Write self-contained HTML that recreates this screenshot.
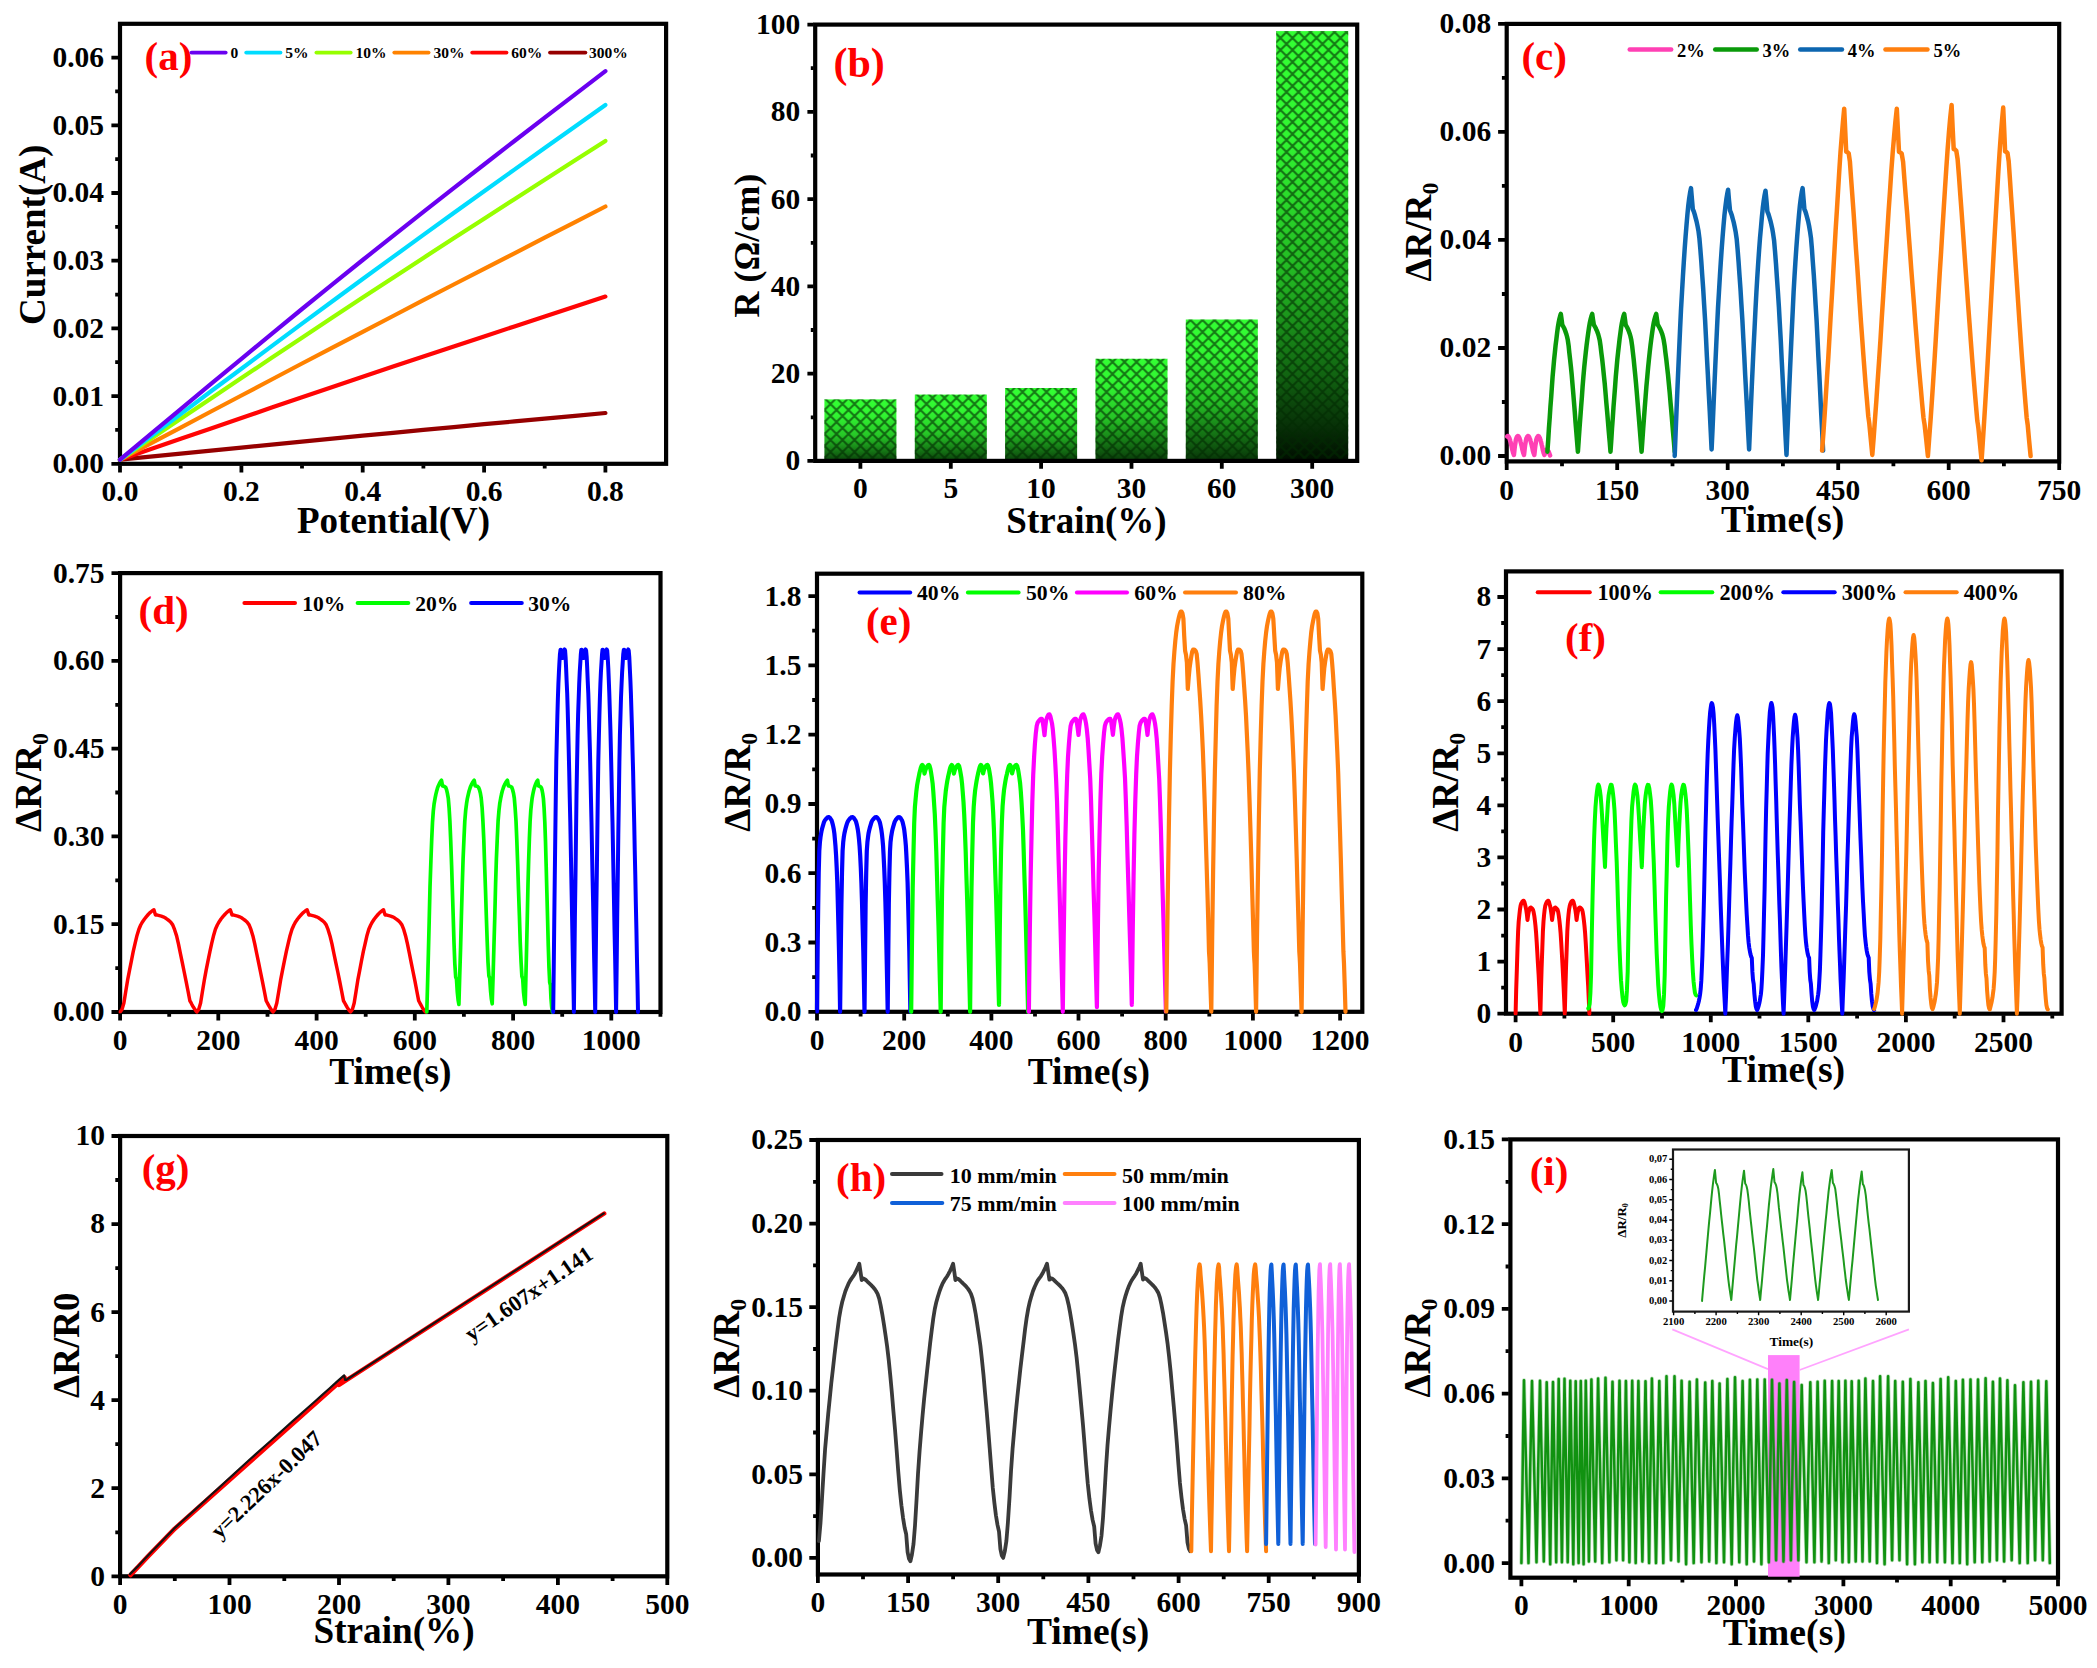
<!DOCTYPE html>
<html lang="en">
<head>
<meta charset="utf-8">
<title>Strain sensor characterisation figure</title>
<style>
html,body{margin:0;padding:0;background:#fff;}
body{width:2097px;height:1668px;overflow:hidden;}
svg{display:block;font-family:'Liberation Serif', 'DejaVu Serif', serif;font-weight:bold;fill:#000;}

</style>
</head>
<body>
<svg xmlns="http://www.w3.org/2000/svg" width="2097" height="1668" viewBox="0 0 2097 1668">
<rect width="2097" height="1668" fill="#fff"/>
<g id="pa"><rect x="120" y="23.8" width="546.1" height="440" fill="none" stroke="#000" stroke-width="4.2"/>
<path d="M120 459.7L150.3 456.7L180.7 453.6L211 450.6L241.4 447.6L271.7 444.6L302 441.6L332.4 438.6L362.7 435.7L393.1 432.8L423.4 429.9L453.7 427.1L484.1 424.2L514.4 421.4L544.7 418.6L575.1 415.8L605.4 413" stroke="#960000" stroke-width="4.2" fill="none" stroke-linejoin="round" stroke-linecap="round"/>
<path d="M120 459.7L150.3 449.3L180.7 438.8L211 428.4L241.4 418L271.7 407.6L302 397.3L332.4 387L362.7 376.8L393.1 366.6L423.4 356.5L453.7 346.4L484.1 336.4L514.4 326.4L544.7 316.5L575.1 306.5L605.4 296.6" stroke="#ff0505" stroke-width="4.2" fill="none" stroke-linejoin="round" stroke-linecap="round"/>
<path d="M120 459.7L150.3 443.6L180.7 427.6L211 411.5L241.4 395.5L271.7 379.5L302 363.5L332.4 347.6L362.7 331.8L393.1 316L423.4 300.2L453.7 284.5L484.1 268.9L514.4 253.3L544.7 237.7L575.1 222.1L605.4 206.5" stroke="#ff8200" stroke-width="4.2" fill="none" stroke-linejoin="round" stroke-linecap="round"/>
<path d="M120 459.7L150.3 439.3L180.7 418.8L211 398.4L241.4 378.1L271.7 357.8L302 337.7L332.4 317.6L362.7 297.6L393.1 277.7L423.4 257.9L453.7 238.3L484.1 218.7L514.4 199.2L544.7 179.7L575.1 160.3L605.4 140.9" stroke="#96ff00" stroke-width="4.2" fill="none" stroke-linejoin="round" stroke-linecap="round"/>
<path d="M120 459.7L150.3 436.9L180.7 414.1L211 391.3L241.4 368.7L271.7 346.1L302 323.6L332.4 301.2L362.7 279L393.1 256.9L423.4 234.9L453.7 213L484.1 191.3L514.4 169.6L544.7 148L575.1 126.5L605.4 105" stroke="#00dcff" stroke-width="4.2" fill="none" stroke-linejoin="round" stroke-linecap="round"/>
<path d="M120 459.7L150.3 434.4L180.7 409.1L211 383.9L241.4 358.8L271.7 333.8L302 309L332.4 284.4L362.7 260L393.1 235.8L423.4 211.9L453.7 188.1L484.1 164.5L514.4 141L544.7 117.6L575.1 94.4L605.4 71.1" stroke="#6a00f0" stroke-width="4.2" fill="none" stroke-linejoin="round" stroke-linecap="round"/>
<path d="M120 465.4v7M241.4 465.4v7M362.7 465.4v7M484.1 465.4v7M605.4 465.4v7M180.7 465.4v3.2M302 465.4v3.2M423.4 465.4v3.2M544.7 465.4v3.2" stroke="#000" stroke-width="3.8" fill="none"/>
<g font-size="29.5" text-anchor="middle"><text x="120" y="501.2">0.0</text><text x="241.4" y="501.2">0.2</text><text x="362.7" y="501.2">0.4</text><text x="484.1" y="501.2">0.6</text><text x="605.4" y="501.2">0.8</text></g>
<path d="M118.4 463.8h-7M118.4 396.1h-7M118.4 328.4h-7M118.4 260.7h-7M118.4 193h-7M118.4 125.3h-7M118.4 57.6h-7M118.4 429.9h-3.2M118.4 362.2h-3.2M118.4 294.6h-3.2M118.4 226.8h-3.2M118.4 159.2h-3.2M118.4 91.4h-3.2" stroke="#000" stroke-width="3.8" fill="none"/>
<g font-size="29.5" text-anchor="end"><text x="104" y="473.2">0.00</text><text x="104" y="405.5">0.01</text><text x="104" y="337.8">0.02</text><text x="104" y="270.1">0.03</text><text x="104" y="202.4">0.04</text><text x="104" y="134.7">0.05</text><text x="104" y="67">0.06</text></g>
<text x="393.6" y="532.6" font-size="37" text-anchor="middle">Potential(V)</text>
<text transform="translate(44.6 234.8) rotate(-90)" font-size="37" text-anchor="middle">Current(A)</text>
<text x="144.5" y="70.3" font-size="41" fill="#ff0000">(a)</text>
<path d="M191.5 52.6H225.7" stroke="#6a00f0" stroke-width="3.8" stroke-linecap="round"/>
<text x="230.5" y="58.3" font-size="15.5">0</text>
<path d="M246.2 52.6H280.5" stroke="#00dcff" stroke-width="3.8" stroke-linecap="round"/>
<text x="285.3" y="58.3" font-size="15.5">5%</text>
<path d="M316.4 52.6H350.7" stroke="#96ff00" stroke-width="3.8" stroke-linecap="round"/>
<text x="355.5" y="58.3" font-size="15.5">10%</text>
<path d="M394.3 52.6H428.6" stroke="#ff8200" stroke-width="3.8" stroke-linecap="round"/>
<text x="433.4" y="58.3" font-size="15.5">30%</text>
<path d="M472.2 52.6H506.5" stroke="#ff0505" stroke-width="3.8" stroke-linecap="round"/>
<text x="511.2" y="58.3" font-size="15.5">60%</text>
<path d="M550 52.6H585.4" stroke="#960000" stroke-width="3.8" stroke-linecap="round"/>
<text x="589.1" y="58.3" font-size="15.5">300%</text></g>
<g id="pb"><defs><pattern id="hatch" width="12" height="12" patternUnits="userSpaceOnUse" x="824.5" y="2"><path d="M-1 -1L13 13M-1 13L13 -1" stroke="#022a02" stroke-opacity="0.62" stroke-width="2.1" fill="none"/></pattern><linearGradient id="bg0" x1="0" y1="0" x2="0" y2="1"><stop offset="0" stop-color="#33ff33"/><stop offset="0.25" stop-color="#31f531"/><stop offset="0.58" stop-color="#27c827"/><stop offset="0.8" stop-color="#178217"/><stop offset="1" stop-color="#0a420a"/></linearGradient><linearGradient id="bg1" x1="0" y1="0" x2="0" y2="1"><stop offset="0" stop-color="#33ff33"/><stop offset="0.25" stop-color="#31f531"/><stop offset="0.58" stop-color="#27c827"/><stop offset="0.8" stop-color="#178217"/><stop offset="1" stop-color="#0a420a"/></linearGradient><linearGradient id="bg2" x1="0" y1="0" x2="0" y2="1"><stop offset="0" stop-color="#33ff33"/><stop offset="0.25" stop-color="#31f531"/><stop offset="0.58" stop-color="#27c827"/><stop offset="0.8" stop-color="#178017"/><stop offset="1" stop-color="#0a400a"/></linearGradient><linearGradient id="bg3" x1="0" y1="0" x2="0" y2="1"><stop offset="0" stop-color="#33ff33"/><stop offset="0.25" stop-color="#31f531"/><stop offset="0.58" stop-color="#26c426"/><stop offset="0.8" stop-color="#167c16"/><stop offset="1" stop-color="#093a09"/></linearGradient><linearGradient id="bg4" x1="0" y1="0" x2="0" y2="1"><stop offset="0" stop-color="#33ff33"/><stop offset="0.25" stop-color="#31f531"/><stop offset="0.58" stop-color="#25c025"/><stop offset="0.8" stop-color="#157615"/><stop offset="1" stop-color="#083408"/></linearGradient><linearGradient id="bg5" x1="0" y1="0" x2="0" y2="1"><stop offset="0" stop-color="#33ff33"/><stop offset="0.25" stop-color="#31f531"/><stop offset="0.58" stop-color="#22b422"/><stop offset="0.8" stop-color="#116411"/><stop offset="1" stop-color="#000d00"/></linearGradient></defs>
<rect x="824.4" y="399.4" width="72" height="61.5" fill="url(#bg0)"/>
<rect x="824.4" y="399.4" width="72" height="61.5" fill="url(#hatch)"/>
<rect x="914.8" y="394.6" width="72" height="66.3" fill="url(#bg1)"/>
<rect x="914.8" y="394.6" width="72" height="66.3" fill="url(#hatch)"/>
<rect x="1005.1" y="388" width="72" height="72.9" fill="url(#bg2)"/>
<rect x="1005.1" y="388" width="72" height="72.9" fill="url(#hatch)"/>
<rect x="1095.5" y="358.8" width="72" height="102.1" fill="url(#bg3)"/>
<rect x="1095.5" y="358.8" width="72" height="102.1" fill="url(#hatch)"/>
<rect x="1185.8" y="319.5" width="72" height="141.4" fill="url(#bg4)"/>
<rect x="1185.8" y="319.5" width="72" height="141.4" fill="url(#hatch)"/>
<rect x="1276.2" y="31.1" width="72" height="429.8" fill="url(#bg5)"/>
<rect x="1276.2" y="31.1" width="72" height="429.8" fill="url(#hatch)"/>
<rect x="815.2" y="24.6" width="542" height="436.3" fill="none" stroke="#000" stroke-width="4.2"/>
<path d="M860.4 462.5v6.2M950.8 462.5v6.2M1041.1 462.5v6.2M1131.5 462.5v6.2M1221.8 462.5v6.2M1312.2 462.5v6.2" stroke="#000" stroke-width="3.8" fill="none"/>
<g font-size="29.5" text-anchor="middle"><text x="860.4" y="497.9">0</text><text x="950.8" y="497.9">5</text><text x="1041.1" y="497.9">10</text><text x="1131.5" y="497.9">30</text><text x="1221.8" y="497.9">60</text><text x="1312.2" y="497.9">300</text></g>
<path d="M813.6 460.9h-6.2M813.6 373.6h-6.2M813.6 286.4h-6.2M813.6 199.1h-6.2M813.6 111.9h-6.2M813.6 24.6h-6.2M813.6 417.3h-2.8M813.6 330h-2.8M813.6 242.8h-2.8M813.6 155.5h-2.8M813.6 68.2h-2.8" stroke="#000" stroke-width="3.8" fill="none"/>
<g font-size="29.5" text-anchor="end"><text x="800.3" y="470.3">0</text><text x="800.3" y="383">20</text><text x="800.3" y="295.8">40</text><text x="800.3" y="208.5">60</text><text x="800.3" y="121.2">80</text><text x="800.3" y="34">100</text></g>
<text x="1086.5" y="532.6" font-size="37" text-anchor="middle">Strain(%)</text>
<text transform="translate(758.8 245.6) rotate(-90)" font-size="36" text-anchor="middle">R (Ω/cm)</text>
<text x="833.5" y="77.4" font-size="42" fill="#ff0000">(b)</text></g>
<g id="pc"><rect x="1506.7" y="23.9" width="552.5" height="437.5" fill="none" stroke="#000" stroke-width="4.2"/>
<path d="M1507.2 436.5L1507.5 436.1L1507.9 436L1508.2 436.2L1508.5 436.6L1508.9 437.2L1509.2 437.9L1509.5 438.7L1509.9 439.6L1510.2 440.8L1510.6 442.1L1510.9 443.4L1511.2 444.8L1511.6 446.2L1511.9 447.7L1512.2 449.3L1512.6 450.8L1512.9 452.1L1513.2 453.2L1513.6 454.1L1513.9 454.9L1514.3 451.6L1514.6 448.6L1514.9 445.9L1515.3 443.7L1515.6 441.6L1515.9 439.7L1516.3 438.3L1516.6 437.6L1516.9 437L1517.3 436.5L1517.6 436.1L1518 436L1518.3 436.2L1518.6 436.6L1519 437.2L1519.3 437.9L1519.6 438.7L1520 439.6L1520.3 440.8L1520.6 442.1L1521 443.4L1521.3 444.8L1521.7 446.2L1522 447.7L1522.3 449.3L1522.7 450.8L1523 452.1L1523.3 453.2L1523.7 454.1L1524 454.9L1524.4 451.6L1524.7 448.6L1525 445.9L1525.4 443.7L1525.7 441.6L1526.1 439.7L1526.4 438.3L1526.8 437.6L1527.1 437L1527.4 436.5L1527.8 436.1L1528.1 436L1528.5 436.2L1528.8 436.6L1529.2 437.2L1529.5 437.9L1529.9 438.7L1530.2 439.6L1530.5 440.8L1530.9 442.1L1531.2 443.4L1531.6 444.8L1531.9 446.2L1532.3 447.7L1532.6 449.3L1532.9 450.8L1533.3 452.1L1533.6 453.2L1534 454.1L1534.3 454.9L1534.7 451.6L1535 448.6L1535.3 445.9L1535.7 443.7L1536 441.6L1536.3 439.7L1536.7 438.3L1537 437.6L1537.4 437L1537.7 436.5L1538 436.1L1538.4 436L1538.7 436.2L1539 436.6L1539.4 437.2L1539.7 437.9L1540 438.7L1540.4 439.6L1540.7 440.8L1541.1 442.1L1541.4 443.4L1541.7 444.8L1542.1 446.2L1542.4 447.7L1542.7 449.3L1543.1 450.8L1543.4 452.1L1543.7 453.2L1544.1 454.1L1544.4 454.9L1546.5 449.5L1548.7 451.7L1550.1 455.5" stroke="#ff40b4" stroke-width="4.5" fill="none" stroke-linejoin="round" stroke-linecap="round"/>
<path d="M1547.4 451.7L1548.2 440.1L1548.9 428.7L1549.7 417.8L1550.4 407.2L1551.2 396.8L1551.9 386.5L1552.6 376.7L1553.4 367.8L1554.1 359.7L1554.9 352.3L1555.6 345.3L1556.4 339L1557.1 333.1L1557.8 327.7L1558.6 323L1559.3 319.3L1560.1 316.2L1560.8 313.9L1561.6 319.5L1562.3 325L1563.1 326.2L1563.9 327.7L1564.7 329.5L1565.4 331.4L1566.2 333.7L1567 336.5L1567.8 340.1L1568.6 345.6L1569.3 352.4L1570.1 359.4L1570.9 366.8L1571.7 374.8L1572.4 383.3L1573.2 392.6L1574 402.4L1574.8 412.3L1575.5 422.1L1576.3 431.9L1577.1 441.8L1577.9 451.7L1578.7 440.1L1579.5 428.7L1580.3 417.8L1581.1 407.2L1581.9 396.8L1582.6 386.5L1583.4 376.7L1584.2 367.8L1585 359.7L1585.8 352.3L1586.6 345.3L1587.4 339L1588.2 333.1L1589 327.7L1589.8 323L1590.6 319.3L1591.4 316.2L1592.2 313.9L1593 319.5L1593.9 325L1594.7 326.2L1595.5 327.7L1596.3 329.5L1597.2 331.4L1598 333.7L1598.8 336.5L1599.7 340.1L1600.5 345.6L1601.3 352.4L1602.2 359.4L1603 366.8L1603.8 374.8L1604.7 383.3L1605.5 392.6L1606.3 402.4L1607.2 412.3L1608 422.1L1608.8 431.9L1609.7 441.8L1610.5 451.7L1611.3 440.1L1612 428.7L1612.8 417.8L1613.5 407.2L1614.3 396.8L1615.1 386.5L1615.8 376.7L1616.6 367.8L1617.3 359.7L1618.1 352.3L1618.9 345.3L1619.6 339L1620.4 333.1L1621.1 327.7L1621.9 323L1622.7 319.3L1623.4 316.2L1624.2 313.9L1625 319.5L1625.7 325L1626.5 326.2L1627.3 327.7L1628.1 329.5L1628.9 331.4L1629.7 333.7L1630.5 336.5L1631.3 340.1L1632.1 345.6L1632.9 352.4L1633.7 359.4L1634.4 366.8L1635.2 374.8L1636 383.3L1636.8 392.6L1637.6 402.4L1638.4 412.3L1639.2 422.1L1640 431.9L1640.8 441.8L1641.6 451.7L1642.4 440.1L1643.2 428.7L1644 417.8L1644.8 407.2L1645.6 396.8L1646.4 386.5L1647.3 376.7L1648.1 367.8L1648.9 359.7L1649.7 352.3L1650.5 345.3L1651.3 339L1652.1 333.1L1652.9 327.7L1653.7 323L1654.5 319.3L1655.4 316.2L1656.2 313.9L1657 319.5L1657.8 325L1658.7 326.2L1659.5 327.7L1660.4 329.5L1661.2 331.4L1662.1 333.7L1662.9 336.5L1663.7 340.1L1664.6 345.6L1665.4 352.4L1666.3 359.4L1667.1 366.8L1668 374.8L1668.8 383.3L1669.7 392.6L1670.5 402.4L1671.4 412.3L1672.2 422.1L1673 431.9L1673.9 441.8L1674.7 451.7" stroke="#0a9a0a" stroke-width="4.5" fill="none" stroke-linejoin="round" stroke-linecap="round"/>
<path d="M1674.7 456L1675.6 433.2L1676.5 411.1L1677.4 389.7L1678.3 369L1679.2 348.7L1680.1 328.7L1681 309.7L1682 292.3L1682.9 276.7L1683.8 262.2L1684.7 248.7L1685.6 236.4L1686.5 225.2L1687.4 214.6L1688.3 205.5L1689.2 198.3L1690.1 192.5L1691 188.1L1691.9 198.7L1692.8 209.3L1693.8 211.5L1694.7 214.4L1695.6 217.8L1696.6 221.6L1697.5 225.9L1698.5 231.2L1699.4 238.2L1700.3 248.6L1701.3 261.5L1702.2 274.9L1703.2 289L1704.1 304.2L1705.1 320.4L1706 337.9L1706.9 356.6L1707.9 375.3L1708.8 393.8L1709.8 412.3L1710.7 430.9L1711.6 449.5L1712.6 427.6L1713.5 406.3L1714.4 385.6L1715.3 365.6L1716.2 345.9L1717.1 326.6L1718 308.2L1719 291.3L1719.9 276.1L1720.8 262L1721.7 248.9L1722.6 236.9L1723.5 225.9L1724.4 215.6L1725.4 206.7L1726.3 199.7L1727.2 194L1728.1 189.7L1729 200.1L1730 210.5L1730.9 212.7L1731.9 215.6L1732.8 219L1733.8 222.7L1734.7 227L1735.7 232.2L1736.7 239.1L1737.6 249.4L1738.6 262.2L1739.5 275.4L1740.5 289.4L1741.4 304.5L1742.4 320.6L1743.3 338L1744.3 356.6L1745.2 375.3L1746.2 393.7L1747.2 412.2L1748.1 430.8L1749.1 449.5L1750 427.8L1750.9 406.7L1751.8 386.1L1752.7 366.3L1753.6 346.8L1754.6 327.5L1755.5 309.2L1756.4 292.4L1757.3 277.2L1758.2 263.1L1759.1 250.1L1760 238.1L1761 227.1L1761.9 216.8L1762.8 207.9L1763.7 200.9L1764.6 195.1L1765.5 190.8L1766.5 201.2L1767.4 211.7L1768.4 214L1769.3 216.9L1770.3 220.3L1771.2 224L1772.2 228.4L1773.1 233.7L1774.1 240.6L1775 251.1L1776 264L1776.9 277.5L1777.9 291.7L1778.9 307L1779.8 323.4L1780.8 341.1L1781.7 360L1782.7 379.1L1783.6 397.9L1784.6 416.8L1785.5 435.8L1786.5 454.9L1787.4 432.3L1788.3 410.3L1789.2 389L1790.1 368.4L1791 348.2L1791.9 328.3L1792.8 309.4L1793.6 292.1L1794.5 276.5L1795.4 262L1796.3 248.6L1797.2 236.4L1798.1 225.1L1799 214.6L1799.9 205.5L1800.8 198.3L1801.7 192.5L1802.6 188.1L1803.5 198.7L1804.4 209.3L1805.4 211.5L1806.3 214.5L1807.2 217.9L1808.2 221.6L1809.1 226L1810 231.3L1811 238.2L1811.9 248.7L1812.8 261.7L1813.8 275.1L1814.7 289.2L1815.6 304.5L1816.6 320.7L1817.5 338.3L1818.4 357.1L1819.4 376L1820.3 394.5L1821.2 413.1L1822.2 431.8L1823.1 450.6" stroke="#0d66b0" stroke-width="4.5" fill="none" stroke-linejoin="round" stroke-linecap="round"/>
<path d="M1822.1 450.6L1823.4 433.2L1824.6 415.3L1825.8 396.7L1827 377.5L1828.3 357.5L1829.5 336.6L1830.7 315.4L1832 294.2L1833.2 273.1L1834.4 251.8L1835.6 230.7L1836.9 210.2L1838.1 190.3L1839.3 170.6L1840.5 152.2L1841.8 136L1843 121.5L1844.2 108.7L1845.2 130.2L1846.2 151.7L1847.4 152.2L1848.7 153.4L1849.9 161.5L1851.1 178.6L1852.4 196.3L1853.6 213.1L1854.8 231L1856 249.3L1857.3 267.4L1858.5 285.2L1859.7 303.3L1860.9 321.2L1862.2 338.7L1863.4 355.4L1864.6 371.5L1865.8 387L1867.1 402L1868.3 416.5L1868.8 420L1869.3 423.5L1870.8 439.2L1872.3 454.9L1873.7 437.3L1875 419L1876.4 400.1L1877.7 380.6L1879.1 360.4L1880.5 339.2L1881.8 317.6L1883.2 296.2L1884.5 274.8L1885.9 253.3L1887.3 232L1888.6 211.2L1890 191.1L1891.3 171.2L1892.7 152.6L1894.1 136.2L1895.4 121.6L1896.8 108.7L1897.9 130.4L1899 152L1900.4 152.5L1901.7 153.7L1903.1 161.8L1904.4 179.1L1905.8 196.9L1907.2 213.8L1908.5 231.8L1909.9 250.2L1911.2 268.3L1912.6 286.3L1914 304.4L1915.3 322.3L1916.7 339.9L1918 356.6L1919.4 372.7L1920.8 388.2L1922.1 403.2L1923.5 417.7L1924 421.2L1924.6 424.7L1926.3 440.3L1927.9 456L1929.2 438.2L1930.6 419.7L1931.9 400.6L1933.2 380.9L1934.5 360.4L1935.8 339L1937.1 317.1L1938.4 295.4L1939.7 273.7L1941.1 251.9L1942.4 230.2L1943.7 209.2L1945 188.7L1946.3 168.5L1947.6 149.6L1948.9 132.9L1950.2 118L1951.6 104.9L1952.6 127L1953.7 149.1L1955 149.5L1956.3 150.8L1957.6 159.1L1959 176.6L1960.3 194.8L1961.6 212.1L1962.9 230.4L1964.2 249.3L1965.5 267.8L1966.8 286.2L1968.1 304.7L1969.5 323.1L1970.8 341L1972.1 358.2L1973.4 374.7L1974.7 390.6L1976 406L1977.3 420.9L1977.9 424.5L1978.4 428.1L1980 444.2L1981.6 460.3L1982.8 442.2L1984 423.5L1985.2 404.1L1986.4 384.2L1987.6 363.5L1988.8 341.9L1990 319.9L1991.2 298L1992.4 276.3L1993.6 254.4L1994.8 232.7L1996 211.6L1997.2 191.1L1998.4 170.9L1999.6 152.1L2000.8 135.5L2002 120.7L2003.2 107.6L2004.2 129.5L2005.1 151.4L2006.3 151.9L2007.5 153.1L2008.7 161.3L2009.9 178.7L2011.1 196.6L2012.3 213.6L2013.5 231.7L2014.7 250.3L2015.9 268.5L2017.1 286.5L2018.3 304.7L2019.5 322.7L2020.7 340.2L2021.9 357L2023.1 373.1L2024.3 388.6L2025.5 403.6L2026.7 418L2027.2 421.4L2027.7 424.9L2029.1 440.4L2030.6 456" stroke="#ff7f0e" stroke-width="4.5" fill="none" stroke-linejoin="round" stroke-linecap="round"/>
<path d="M1506.7 463v7M1617.2 463v7M1727.7 463v7M1838.2 463v7M1948.7 463v7M2059.2 463v7M1562 463v3.2M1672.5 463v3.2M1782.9 463v3.2M1893.4 463v3.2M2003.9 463v3.2" stroke="#000" stroke-width="3.8" fill="none"/>
<g font-size="29.5" text-anchor="middle"><text x="1506.7" y="499.8">0</text><text x="1617.2" y="499.8">150</text><text x="1727.7" y="499.8">300</text><text x="1838.2" y="499.8">450</text><text x="1948.7" y="499.8">600</text><text x="2059.2" y="499.8">750</text></g>
<path d="M1505.1 456h-7M1505.1 348h-7M1505.1 239.9h-7M1505.1 131.9h-7M1505.1 23.9h-7M1505.1 402h-3.2M1505.1 294h-3.2M1505.1 185.9h-3.2M1505.1 77.9h-3.2" stroke="#000" stroke-width="3.8" fill="none"/>
<g font-size="29.5" text-anchor="end"><text x="1491.2" y="465.4">0.00</text><text x="1491.2" y="357.4">0.02</text><text x="1491.2" y="249.3">0.04</text><text x="1491.2" y="141.3">0.06</text><text x="1491.2" y="33.3">0.08</text></g>
<text x="1782.7" y="532.1" font-size="37.8" text-anchor="middle">Time(s)</text>
<text transform="translate(1430.8 232) rotate(-90)" font-size="37" text-anchor="middle">ΔR/R<tspan font-size="24" dy="7">0</tspan></text>
<text x="1521.4" y="69.9" font-size="41" fill="#ff0000">(c)</text>
<path d="M1629.7 49.5H1671.2" stroke="#ff40b4" stroke-width="4.4" stroke-linecap="round"/>
<text x="1677" y="56.5" font-size="18.5">2%</text>
<path d="M1715.2 49.5H1756.8" stroke="#0a9a0a" stroke-width="4.4" stroke-linecap="round"/>
<text x="1762.5" y="56.5" font-size="18.5">3%</text>
<path d="M1800.2 49.5H1842" stroke="#0d66b0" stroke-width="4.4" stroke-linecap="round"/>
<text x="1847.7" y="56.5" font-size="18.5">4%</text>
<path d="M1885.4 49.5H1927.5" stroke="#ff7f0e" stroke-width="4.4" stroke-linecap="round"/>
<text x="1933.6" y="56.5" font-size="18.5">5%</text></g>
<g id="pd"><rect x="120.1" y="573.1" width="540.4" height="438.9" fill="none" stroke="#000" stroke-width="4.2"/>
<path d="M120.1 1012L122 1009.4L123.9 1003L125.7 991.8L127.6 980.2L129.5 970.4L131.4 960.8L133.2 951.7L135.1 943.3L137 935.4L138.9 929.3L140.7 925L142.6 921.7L144.5 919L146.4 916.6L148.2 914.5L150.1 912.6L152 911L153.9 909.8L154.7 912.4L155.5 914.9L157.5 915.1L159.4 915.6L161.3 916.1L163.2 916.8L165.1 917.8L167 919.1L168.9 920.5L170.8 922.3L172.7 924.9L174.6 929.7L176.6 935.9L178.5 944.1L180.4 953.5L182.3 962.7L184.2 972L186.1 981.4L188 991L189.9 1000.8L190.9 1002.5L191.8 1004.3L193.5 1007.3L195.2 1009.9L196.8 1012L198.7 1009.4L200.6 1003L202.4 991.8L204.3 980.2L206.1 970.4L208 960.8L209.9 951.7L211.7 943.3L213.6 935.4L215.4 929.3L217.3 925L219.2 921.7L221 919L222.9 916.6L224.8 914.5L226.6 912.6L228.5 911L230.3 909.8L231.2 912.4L232 914.9L233.9 915.1L235.8 915.6L237.7 916.1L239.6 916.8L241.5 917.8L243.4 919.1L245.3 920.5L247.2 922.3L249.1 924.9L251 929.7L252.9 935.9L254.8 944.1L256.7 953.5L258.6 962.7L260.5 972L262.4 981.4L264.3 991L266.2 1000.8L267.1 1002.5L268.1 1004.3L269.7 1007.3L271.4 1009.9L273 1012L274.9 1009.4L276.8 1003L278.7 991.8L280.6 980.2L282.5 970.4L284.4 960.8L286.3 951.7L288.2 943.3L290.1 935.4L292 929.3L293.9 925L295.7 921.7L297.6 919L299.5 916.6L301.4 914.5L303.3 912.6L305.2 911L307.1 909.8L308 912.4L308.8 914.9L310.7 915.1L312.7 915.6L314.6 916.1L316.5 916.8L318.5 917.8L320.4 919.1L322.3 920.5L324.3 922.3L326.2 924.9L328.1 929.7L330 935.9L332 944.1L333.9 953.5L335.8 962.7L337.8 972L339.7 981.4L341.6 991L343.5 1000.8L344.5 1002.5L345.5 1004.3L347.2 1007.3L348.8 1009.9L350.5 1012L352.4 1009.4L354.2 1003L356 991.8L357.8 980.2L359.7 970.4L361.5 960.8L363.3 951.7L365.2 943.3L367 935.4L368.8 929.3L370.7 925L372.5 921.7L374.3 919L376.2 916.6L378 914.5L379.8 912.6L381.7 911L383.5 909.8L384.3 912.4L385.1 914.9L387 915.1L388.9 915.6L390.7 916.1L392.6 916.8L394.5 917.8L396.3 919.1L398.2 920.5L400 922.3L401.9 924.9L403.8 929.7L405.6 935.9L407.5 944.1L409.4 953.5L411.2 962.7L413.1 972L415 981.4L416.8 991L418.7 1000.8L419.6 1002.5L420.6 1004.3L422.2 1007.3L423.8 1009.9L425.4 1012" stroke="#ff0000" stroke-width="3.5" fill="none" stroke-linejoin="round" stroke-linecap="round"/>
<path d="M426.8 1012L427.6 982.8L428.4 952.8L429.2 920.8L430 887.1L430.9 861L431.7 839.7L432.5 822.3L433.3 811L434.1 803.9L435 798.7L435.8 794.7L436.6 791.3L437.4 788.4L438.2 786.2L439.1 784.3L439.9 782.6L440.7 781.2L441.5 780.3L442 783.1L442.5 786L443.3 786.1L444.1 786.3L445 786.8L445.8 787.6L446.6 789.8L447.4 793.3L448.3 798.3L449.1 808L449.9 821.3L450.7 840.4L451.6 865.2L452.4 890.7L453.2 916.4L454 942.7L454.8 963.3L455.7 977L456.1 978.1L456.5 979.1L457.3 992.1L458.1 999.9L458.9 1004.4L459.7 976.3L460.6 947.4L461.4 916.5L462.3 884L463.1 858.7L464 838L464.8 821.1L465.7 810.2L466.6 803.3L467.4 798.3L468.3 794.3L469.1 791L470 788.2L470.8 786L471.7 784.2L472.5 782.5L473.4 781.2L474.2 780.3L474.7 783.1L475.2 785.9L476.1 786L476.9 786.2L477.8 786.7L478.6 787.5L479.5 789.7L480.4 793.2L481.2 798.1L482.1 807.7L482.9 820.9L483.8 839.8L484.6 864.4L485.5 889.8L486.3 915.3L487.2 941.5L488 962.1L488.9 975.9L489.3 977L489.7 978.1L490.6 991.2L491.4 999.2L492.2 1003.8L493.1 975.8L493.9 947L494.8 916.2L495.6 883.7L496.4 858.5L497.3 837.9L498.1 821L499 810.1L499.8 803.3L500.7 798.2L501.5 794.3L502.3 791L503.2 788.2L504 786L504.9 784.2L505.7 782.5L506.6 781.2L507.4 780.3L507.9 783.1L508.4 785.9L509.2 786L510.1 786.2L510.9 786.7L511.8 787.5L512.6 789.7L513.5 793.2L514.3 798.1L515.1 807.7L516 820.9L516.8 839.9L517.7 864.5L518.5 889.9L519.4 915.6L520.2 941.8L521.1 962.4L521.9 976.3L522.3 977.5L522.7 978.6L523.5 991.7L524.4 999.7L525.2 1004.4L525.9 976.5L526.6 947.7L527.3 916.8L528 884.3L528.7 859L529.4 838.3L530.1 821.4L530.8 810.4L531.5 803.5L532.1 798.4L532.8 794.5L533.5 791.1L534.2 788.3L534.9 786.1L535.6 784.2L536.3 782.6L537 781.2L537.7 780.3L538.1 783.1L538.5 786L539.2 786.1L539.9 786.4L540.6 786.8L541.3 787.6L542 789.9L542.7 793.5L543.4 798.5L544.1 808.4L544.8 821.9L545.5 841.4L546.2 866.7L546.9 893L547.6 919.4L548.3 946.5L549 967.9L549.7 982.4L550 983.6L550.4 984.8L551 998.6L551.7 1007L552.4 1012" stroke="#00ff00" stroke-width="3.7" fill="none" stroke-linejoin="round" stroke-linecap="round"/>
<path d="M553.2 1012L553.8 963.2L554.3 917.3L554.8 874.9L555.3 834.7L555.8 795.6L556.3 761.3L556.9 735.4L557.4 715L557.9 697.7L558.4 683.5L558.9 672.6L559.4 662.8L559.9 654.5L560.5 649.7L561 649.7L561.5 652.4L562 655.7L562.5 658L563 657.7L563.6 655.1L564.1 651.7L564.6 649.4L565.1 650.5L565.6 657.3L566.1 668.1L566.6 680.5L567.2 693.5L567.7 709.8L568.2 728.9L568.7 749.6L569.2 771.4L569.7 795.9L570.3 822.2L570.8 849L571.3 875.4L571.8 902L572.3 928.9L572.8 956.2L573.4 983.9L573.9 1012L574.4 963.2L574.9 917.3L575.5 874.9L576 834.7L576.5 795.6L577.1 761.3L577.6 735.4L578.1 715L578.7 697.7L579.2 683.5L579.7 672.6L580.3 662.8L580.8 654.5L581.3 649.7L581.9 649.7L582.4 652.4L582.9 655.7L583.5 658L584 657.7L584.5 655.1L585.1 651.7L585.6 649.4L586.1 650.5L586.7 657.3L587.2 668.1L587.7 680.5L588.3 693.5L588.8 709.8L589.3 728.9L589.9 749.6L590.4 771.4L590.9 795.9L591.5 822.2L592 849L592.5 875.4L593.1 902L593.6 928.9L594.1 956.2L594.7 983.9L595.2 1012L595.7 963.2L596.2 917.3L596.8 874.9L597.3 834.7L597.8 795.6L598.3 761.3L598.9 735.4L599.4 715L599.9 697.7L600.4 683.5L600.9 672.6L601.5 662.8L602 654.5L602.5 649.7L603 649.7L603.6 652.4L604.1 655.7L604.6 658L605.1 657.7L605.7 655.1L606.2 651.7L606.7 649.4L607.2 650.5L607.7 657.3L608.3 668.1L608.8 680.5L609.3 693.5L609.8 709.8L610.4 728.9L610.9 749.6L611.4 771.4L611.9 795.9L612.5 822.2L613 849L613.5 875.4L614 902L614.5 928.9L615.1 956.2L615.6 983.9L616.1 1012L616.7 963.2L617.2 917.3L617.8 874.9L618.3 834.7L618.9 795.6L619.4 761.3L619.9 735.4L620.5 715L621 697.7L621.6 683.5L622.1 672.6L622.7 662.8L623.2 654.5L623.8 649.7L624.3 649.7L624.9 652.4L625.4 655.7L626 658L626.5 657.7L627.1 655.1L627.6 651.7L628.2 649.4L628.7 650.5L629.3 657.3L629.8 668.1L630.4 680.5L630.9 693.5L631.4 709.8L632 728.9L632.5 749.6L633.1 771.4L633.6 795.9L634.2 822.2L634.7 849L635.3 875.4L635.8 902L636.4 928.9L636.9 956.2L637.5 983.9L638 1012" stroke="#0000ff" stroke-width="4" fill="none" stroke-linejoin="round" stroke-linecap="round"/>
<path d="M120.1 1013.6v7M218.3 1013.6v7M316.6 1013.6v7M414.8 1013.6v7M513.1 1013.6v7M611.3 1013.6v7M169.2 1013.6v3.2M267.5 1013.6v3.2M365.7 1013.6v3.2M463.9 1013.6v3.2M562.2 1013.6v3.2M660.4 1013.6v3.2" stroke="#000" stroke-width="3.8" fill="none"/>
<g font-size="29.5" text-anchor="middle"><text x="120.1" y="1050">0</text><text x="218.3" y="1050">200</text><text x="316.6" y="1050">400</text><text x="414.8" y="1050">600</text><text x="513.1" y="1050">800</text><text x="611.3" y="1050">1000</text></g>
<path d="M118.5 1012h-7M118.5 924.2h-7M118.5 836.4h-7M118.5 748.7h-7M118.5 660.9h-7M118.5 573.1h-7M118.5 968.1h-3.2M118.5 880.3h-3.2M118.5 792.5h-3.2M118.5 704.8h-3.2M118.5 617h-3.2" stroke="#000" stroke-width="3.8" fill="none"/>
<g font-size="29.5" text-anchor="end"><text x="104.5" y="1021.4">0.00</text><text x="104.5" y="933.6">0.15</text><text x="104.5" y="845.8">0.30</text><text x="104.5" y="758">0.45</text><text x="104.5" y="670.3">0.60</text><text x="104.5" y="582.5">0.75</text></g>
<text x="390.4" y="1084.4" font-size="37.5" text-anchor="middle">Time(s)</text>
<text transform="translate(41 782.5) rotate(-90)" font-size="37" text-anchor="middle">ΔR/R<tspan font-size="24" dy="7">0</tspan></text>
<text x="138.6" y="623.8" font-size="41" fill="#ff0000">(d)</text>
<path d="M244.4 602.9H295" stroke="#ff0000" stroke-width="4" stroke-linecap="round"/>
<text x="302.3" y="610.9" font-size="21.5">10%</text>
<path d="M357.6 602.9H408.3" stroke="#00ff00" stroke-width="4" stroke-linecap="round"/>
<text x="415.2" y="610.9" font-size="21.5">20%</text>
<path d="M471.1 602.9H521.8" stroke="#0000ff" stroke-width="4" stroke-linecap="round"/>
<text x="528.2" y="610.9" font-size="21.5">30%</text></g>
<g id="pe"><rect x="817" y="573.7" width="545.3" height="438.1" fill="none" stroke="#000" stroke-width="4.2"/>
<path d="M817 1011.8L817.6 950L818.2 904.7L818.7 873L819.3 850.8L819.9 842.3L820.5 837.2L821.1 833.5L821.6 830.7L822.2 828.3L822.8 826.1L823.4 824.1L823.9 822.4L824.5 821L825.1 820L825.7 819.3L826.3 818.6L826.8 818L827.4 817.5L828 817.2L828.6 817.1L829.2 817.3L829.7 817.7L830.3 818.4L830.9 819.3L831.5 820.2L832 821.7L832.6 823.8L833.2 826.4L833.8 829.5L834.4 833.7L834.9 839.4L835.5 846.3L836.1 855.6L836.7 867.9L837.3 882.6L837.8 902L838.4 925.2L839 950.7L839.6 979.7L840.1 1011.8L840.8 950L841.4 904.7L842 873L842.6 850.8L843.2 842.3L843.8 837.2L844.4 833.5L845 830.7L845.6 828.3L846.2 826.1L846.8 824.1L847.4 822.4L848.1 821L848.7 820L849.3 819.3L849.9 818.6L850.5 818L851.1 817.5L851.7 817.2L852.3 817.1L852.9 817.3L853.5 817.7L854.1 818.4L854.7 819.3L855.3 820.2L856 821.7L856.6 823.8L857.2 826.4L857.8 829.5L858.4 833.7L859 839.4L859.6 846.3L860.2 855.6L860.8 867.9L861.4 882.6L862 902L862.6 925.2L863.3 950.7L863.9 979.7L864.5 1011.8L865.1 950L865.6 904.7L866.2 873L866.8 850.8L867.4 842.3L868 837.2L868.5 833.5L869.1 830.7L869.7 828.3L870.3 826.1L870.9 824.1L871.4 822.4L872 821L872.6 820L873.2 819.3L873.8 818.6L874.3 818L874.9 817.5L875.5 817.2L876.1 817.1L876.7 817.3L877.3 817.7L877.8 818.4L878.4 819.3L879 820.2L879.6 821.7L880.2 823.8L880.7 826.4L881.3 829.5L881.9 833.7L882.5 839.4L883.1 846.3L883.6 855.6L884.2 867.9L884.8 882.6L885.4 902L886 925.2L886.5 950.7L887.1 979.7L887.7 1011.8L888.3 950L888.8 904.7L889.4 873L890 850.8L890.5 842.3L891.1 837.2L891.7 833.5L892.2 830.7L892.8 828.3L893.4 826.1L894 824.1L894.5 822.4L895.1 821L895.7 820L896.2 819.3L896.8 818.6L897.4 818L897.9 817.5L898.5 817.2L899.1 817.1L899.6 817.3L900.2 817.7L900.8 818.4L901.3 819.3L901.9 820.2L902.5 821.7L903 823.8L903.6 826.4L904.2 829.5L904.7 833.7L905.3 839.4L905.9 846.3L906.4 855.6L907 867.9L907.6 882.6L908.1 902L908.7 925.2L909.3 950.7L909.8 979.7L910.4 1011.8" stroke="#0000ff" stroke-width="4.2" fill="none" stroke-linejoin="round" stroke-linecap="round"/>
<path d="M911.2 1011.8L912 941L912.7 888.4L913.5 851.5L914.2 823L914.9 807.2L915.7 798.1L916.4 790.9L917.1 785.3L917.9 780.9L918.6 777.3L919.3 773.8L920.1 770.6L920.8 767.8L921.5 765.9L922.3 764.9L923 765.8L923.8 769L924.5 773.6L925.2 770.7L926 768.6L926.7 767.2L927.4 766.1L928.2 765.2L928.9 764.9L929.6 766L930.4 768.8L931.1 772.7L931.8 777.3L932.6 783.2L933.3 791.6L934 802.1L934.8 814.3L935.5 830.5L936.3 851.8L937 876L937.7 900.7L938.5 925.9L939.2 953L939.9 981.6L940.7 1011.8L941.4 941L942.1 888.4L942.9 851.5L943.6 823L944.3 807.2L945.1 798.1L945.8 790.9L946.6 785.3L947.3 780.9L948 777.3L948.8 773.8L949.5 770.6L950.2 767.8L951 765.9L951.7 764.9L952.4 765.8L953.2 769L953.9 773.6L954.6 770.7L955.4 768.6L956.1 767.2L956.9 766.1L957.6 765.2L958.3 764.9L959.1 766L959.8 768.8L960.5 772.7L961.3 777.3L962 783.2L962.7 791.6L963.5 802.1L964.2 814.3L964.9 830.5L965.7 851.8L966.4 876L967.2 900.7L967.9 925.9L968.6 953L969.4 981.6L970.1 1011.8L970.8 940.9L971.5 888.2L972.3 851.3L973 822.8L973.7 807.1L974.4 797.9L975.1 790.8L975.9 785.2L976.6 780.8L977.3 777.2L978 773.8L978.8 770.5L979.5 767.8L980.2 765.8L980.9 764.9L981.6 765.8L982.4 768.9L983.1 773.5L983.8 770.6L984.5 768.6L985.2 767.2L986 766L986.7 765.2L987.4 764.9L988.1 766L988.9 768.7L989.6 772.6L990.3 777L991 782.9L991.7 791.1L992.5 801.3L993.2 813.2L993.9 829L994.6 849.8L995.3 873.2L996.1 897.3L996.8 921.8L997.5 948L998.2 975.7L999 1004.9L999.7 936.2L1000.4 885.1L1001.1 849.2L1001.9 821.5L1002.6 806.2L1003.3 797.3L1004 790.3L1004.8 784.9L1005.5 780.6L1006.2 777L1007 773.7L1007.7 770.5L1008.4 767.8L1009.1 765.8L1009.9 764.9L1010.6 765.8L1011.3 768.9L1012.1 773.4L1012.8 770.6L1013.5 768.6L1014.2 767.2L1015 766L1015.7 765.2L1016.4 764.9L1017.2 766L1017.9 768.7L1018.6 772.7L1019.3 777.2L1020.1 783.1L1020.8 791.4L1021.5 801.9L1022.2 814L1023 830.2L1023.7 851.5L1024.4 875.6L1025.2 900.3L1025.9 925.6L1026.6 952.7L1027.3 981.5L1028.1 1011.8" stroke="#00ff00" stroke-width="4.2" fill="none" stroke-linejoin="round" stroke-linecap="round"/>
<path d="M1028.9 1011.8L1029.7 938.6L1030.6 879L1031.5 837.2L1032.3 802.4L1033.2 775.1L1034.1 757.1L1034.9 744.1L1035.8 733.4L1036.7 726L1037.5 722.9L1038.4 721.5L1039.3 720.3L1040.1 719.4L1041 718.9L1041.9 718.8L1042.7 721.7L1043.6 727.7L1044.5 735.2L1045.3 726.6L1046.1 720.3L1047 717.6L1047.8 715.7L1048.6 714.6L1049.5 714.4L1050.3 716.1L1051.1 719.4L1052 723.4L1052.8 729.4L1053.6 738.5L1054.5 750.1L1055.3 763.8L1056.1 779.3L1057 800.8L1057.8 828.5L1058.6 859.1L1059.5 889L1060.3 918.3L1061.1 948.6L1062 979.7L1062.8 1011.8L1063.7 938.5L1064.6 878.8L1065.4 837L1066.3 802.2L1067.2 775L1068 757L1068.9 744L1069.8 733.3L1070.6 726L1071.5 722.9L1072.4 721.4L1073.3 720.3L1074.1 719.4L1075 718.9L1075.9 718.8L1076.7 721.6L1077.6 727.6L1078.5 735L1079.3 726.5L1080.1 720.3L1081 717.5L1081.8 715.7L1082.7 714.6L1083.5 714.4L1084.3 716.1L1085.2 719.3L1086 723.3L1086.8 729.3L1087.7 738.2L1088.5 749.7L1089.3 763.2L1090.2 778.4L1091 799.7L1091.8 827L1092.7 857.1L1093.5 886.6L1094.4 915.4L1095.2 945.1L1096 975.7L1096.9 1007.2L1097.8 935.1L1098.6 876.3L1099.5 835.2L1100.4 800.9L1101.3 774.1L1102.2 756.4L1103.1 743.6L1104 733.1L1104.9 725.8L1105.8 722.8L1106.7 721.3L1107.6 720.2L1108.5 719.4L1109.4 718.9L1110.3 718.8L1111.2 721.6L1112 727.5L1112.9 734.8L1113.8 726.4L1114.7 720.2L1115.5 717.5L1116.4 715.7L1117.2 714.6L1118.1 714.4L1118.9 716.1L1119.8 719.3L1120.7 723.2L1121.5 729.1L1122.4 738L1123.2 749.4L1124.1 762.8L1125 777.8L1125.8 798.9L1126.7 826L1127.5 855.9L1128.4 885.1L1129.2 913.7L1130.1 943.2L1131 973.6L1131.8 1004.9L1132.7 933.5L1133.6 875.3L1134.4 834.5L1135.3 800.5L1136.2 773.9L1137 756.3L1137.9 743.5L1138.8 733L1139.6 725.8L1140.5 722.8L1141.4 721.3L1142.3 720.2L1143.1 719.4L1144 718.9L1144.9 718.8L1145.7 721.6L1146.6 727.6L1147.5 734.9L1148.3 726.5L1149.2 720.3L1150 717.5L1150.8 715.7L1151.7 714.6L1152.5 714.4L1153.3 716.1L1154.2 719.3L1155 723.4L1155.8 729.3L1156.7 738.4L1157.5 749.9L1158.3 763.6L1159.2 779L1160 800.4L1160.9 828.1L1161.7 858.7L1162.5 888.6L1163.4 917.9L1164.2 948.3L1165 979.6L1165.9 1011.8" stroke="#ff00ff" stroke-width="4.2" fill="none" stroke-linejoin="round" stroke-linecap="round"/>
<path d="M1166.3 1011.8L1167.2 936.4L1168.1 872.1L1169 817.4L1169.9 770.8L1170.8 735.8L1171.7 706L1172.6 681.5L1173.5 663.9L1174.4 651.4L1175.3 641L1176.2 632.6L1177.1 626.1L1178 621.4L1178.9 617.2L1179.8 613.8L1180.7 611.7L1181.6 611.6L1182.5 613.5L1183.4 618.7L1184.2 635.8L1185.1 650.8L1186 654.7L1186.9 662.6L1187.8 689L1188.7 677.5L1189.6 667.9L1190.5 661.4L1191.4 655.9L1192.2 651.6L1193.1 649.5L1194 649.5L1194.9 650.1L1195.8 651.1L1196.7 654.1L1197.5 662.6L1198.4 674.4L1199.3 687.4L1200.2 700.4L1201.1 715.3L1202 732.4L1202.9 751.5L1203.7 773.2L1204.6 799.2L1205.5 828L1206.4 858L1207.3 887.9L1208.2 919.2L1209 951.7L1209.4 957.7L1209.7 963.7L1210.5 987.8L1211.3 1011.8L1212.2 936.4L1213.1 872.1L1214 817.4L1214.9 770.8L1215.8 735.8L1216.6 706L1217.5 681.5L1218.4 663.9L1219.3 651.4L1220.2 641L1221.1 632.6L1222 626.1L1222.9 621.4L1223.8 617.2L1224.7 613.8L1225.6 611.7L1226.5 611.6L1227.4 613.5L1228.3 618.7L1229.2 635.8L1230 650.8L1230.9 654.7L1231.8 662.6L1232.7 689L1233.6 677.5L1234.5 667.9L1235.4 661.4L1236.3 655.9L1237.1 651.6L1238 649.5L1238.9 649.5L1239.8 650.1L1240.7 651.1L1241.5 654.1L1242.4 662.6L1243.3 674.4L1244.2 687.4L1245.1 700.4L1246 715.3L1246.8 732.4L1247.7 751.5L1248.6 773.2L1249.5 799.2L1250.4 828L1251.3 858L1252.1 887.9L1253 919.2L1253.9 951.7L1254.2 957.7L1254.6 963.7L1255.4 987.8L1256.1 1011.8L1257 936.4L1258 872.1L1258.9 817.4L1259.8 770.8L1260.7 735.8L1261.6 706L1262.5 681.5L1263.4 663.9L1264.3 651.4L1265.2 641L1266.1 632.6L1267 626.1L1267.9 621.4L1268.8 617.2L1269.7 613.8L1270.6 611.7L1271.5 611.6L1272.4 613.5L1273.3 618.7L1274.3 635.8L1275.2 650.8L1276.1 654.7L1277 662.6L1277.9 689L1278.8 677.5L1279.7 667.9L1280.6 661.4L1281.5 655.9L1282.3 651.6L1283.2 649.5L1284.1 649.5L1285 650.1L1285.9 651.1L1286.8 654.1L1287.7 662.6L1288.6 674.4L1289.5 687.4L1290.4 700.4L1291.3 715.3L1292.2 732.4L1293.1 751.5L1294 773.2L1294.9 799.2L1295.8 828L1296.7 858L1297.5 887.9L1298.4 919.2L1299.3 951.7L1299.7 957.7L1300 963.7L1300.8 987.8L1301.6 1011.8L1302.5 936.4L1303.4 872.1L1304.2 817.4L1305.1 770.8L1306 735.8L1306.9 706L1307.7 681.5L1308.6 663.9L1309.5 651.4L1310.4 641L1311.2 632.6L1312.1 626.1L1313 621.4L1313.9 617.2L1314.7 613.8L1315.6 611.7L1316.5 611.6L1317.4 613.5L1318.2 618.7L1319.1 635.8L1320 650.8L1320.9 654.7L1321.7 662.6L1322.6 689L1323.5 677.5L1324.3 667.9L1325.2 661.4L1326.1 655.9L1326.9 651.6L1327.8 649.5L1328.7 649.5L1329.5 650.1L1330.4 651.1L1331.3 654.1L1332.1 662.6L1333 674.4L1333.8 687.4L1334.7 700.4L1335.6 715.3L1336.4 732.4L1337.3 751.5L1338.2 773.2L1339 799.2L1339.9 828L1340.8 858L1341.6 887.9L1342.5 919.2L1343.4 951.7L1343.7 957.7L1344 963.7L1344.8 987.8L1345.5 1011.8" stroke="#ff7f0e" stroke-width="4.2" fill="none" stroke-linejoin="round" stroke-linecap="round"/>
<path d="M817 1013.4v7M904.2 1013.4v7M991.4 1013.4v7M1078.5 1013.4v7M1165.7 1013.4v7M1252.9 1013.4v7M1340.1 1013.4v7M860.6 1013.4v3.2M947.8 1013.4v3.2M1035 1013.4v3.2M1122.1 1013.4v3.2M1209.3 1013.4v3.2M1296.5 1013.4v3.2" stroke="#000" stroke-width="3.8" fill="none"/>
<g font-size="29.5" text-anchor="middle"><text x="817" y="1050">0</text><text x="904.2" y="1050">200</text><text x="991.4" y="1050">400</text><text x="1078.5" y="1050">600</text><text x="1165.7" y="1050">800</text><text x="1252.9" y="1050">1000</text><text x="1340.1" y="1050">1200</text></g>
<path d="M815.4 1011.8h-7M815.4 942.5h-7M815.4 873.2h-7M815.4 804h-7M815.4 734.7h-7M815.4 665.4h-7M815.4 596.1h-7M815.4 977.2h-3.2M815.4 907.9h-3.2M815.4 838.6h-3.2M815.4 769.3h-3.2M815.4 700h-3.2M815.4 630.7h-3.2" stroke="#000" stroke-width="3.8" fill="none"/>
<g font-size="29.5" text-anchor="end"><text x="801.4" y="1021.2">0.0</text><text x="801.4" y="951.9">0.3</text><text x="801.4" y="882.6">0.6</text><text x="801.4" y="813.3">0.9</text><text x="801.4" y="744">1.2</text><text x="801.4" y="674.8">1.5</text><text x="801.4" y="605.5">1.8</text></g>
<text x="1088.9" y="1084" font-size="37.5" text-anchor="middle">Time(s)</text>
<text transform="translate(750.4 782.3) rotate(-90)" font-size="37" text-anchor="middle">ΔR/R<tspan font-size="24" dy="7">0</tspan></text>
<text x="865.9" y="634.6" font-size="41" fill="#ff0000">(e)</text>
<path d="M859.5 592.5H910.2" stroke="#0000ff" stroke-width="4" stroke-linecap="round"/>
<text x="917" y="600" font-size="21.7">40%</text>
<path d="M967.9 592.5H1018.6" stroke="#00ff00" stroke-width="4" stroke-linecap="round"/>
<text x="1026" y="600" font-size="21.7">50%</text>
<path d="M1076.9 592.5H1127" stroke="#ff00ff" stroke-width="4" stroke-linecap="round"/>
<text x="1134.3" y="600" font-size="21.7">60%</text>
<path d="M1185 592.5H1236" stroke="#ff7f0e" stroke-width="4" stroke-linecap="round"/>
<text x="1243.1" y="600" font-size="21.7">80%</text></g>
<g id="pf"><rect x="1506" y="571.4" width="555.6" height="442.3" fill="none" stroke="#000" stroke-width="4.2"/>
<path d="M1515.6 1013.7L1516.2 989.3L1516.9 968.1L1517.5 948.6L1518.1 931.7L1518.7 921.4L1519.4 914.6L1520 909.3L1520.6 905.6L1521.2 903.6L1521.9 902.4L1522.5 901.4L1523.1 900.8L1523.7 900.8L1524.4 902L1525 904.2L1525.6 906.8L1526.3 910.2L1526.9 914.6L1527.5 919.9L1528.1 915.3L1528.7 912L1529.3 909.7L1530 908L1530.6 907.5L1531.2 907.7L1531.8 908.2L1532.4 908.9L1533 909.8L1533.6 912L1534.3 915.8L1534.9 920.6L1535.5 926L1536.1 933L1536.7 942.2L1537.3 952.5L1537.9 963.2L1538.6 974.5L1539.2 986.7L1539.8 999.8L1540.4 1013.7L1541 989.3L1541.6 968.1L1542.3 948.6L1542.9 931.7L1543.5 921.4L1544.1 914.6L1544.7 909.3L1545.3 905.6L1546 903.6L1546.6 902.4L1547.2 901.4L1547.8 900.8L1548.4 900.8L1549 902L1549.6 904.2L1550.3 906.8L1550.9 910.2L1551.5 914.6L1552.1 919.9L1552.7 915.3L1553.3 912L1553.9 909.7L1554.5 908L1555.1 907.5L1555.7 907.7L1556.3 908.2L1556.9 908.9L1557.6 909.8L1558.2 912L1558.8 915.8L1559.4 920.6L1560 926L1560.6 933L1561.2 942.2L1561.8 952.5L1562.4 963.2L1563 974.5L1563.6 986.7L1564.2 999.8L1564.8 1013.7L1565.4 989.3L1566 968.1L1566.7 948.6L1567.3 931.7L1567.9 921.4L1568.5 914.6L1569.1 909.3L1569.8 905.6L1570.4 903.6L1571 902.4L1571.6 901.4L1572.2 900.8L1572.9 900.8L1573.5 902L1574.1 904.2L1574.7 906.8L1575.4 910.2L1576 914.6L1576.6 919.9L1577.2 915.3L1577.8 912L1578.4 909.7L1579 908L1579.6 907.5L1580.2 907.7L1580.9 908.2L1581.5 908.9L1582.1 909.8L1582.7 912L1583.3 915.8L1583.9 920.6L1584.5 926L1585.1 933L1585.7 942.2L1586.3 952.5L1586.9 963.2L1587.5 974.5L1588.2 986.7L1588.8 999.8L1589.4 1013.7" stroke="#ff0000" stroke-width="4" fill="none" stroke-linejoin="round" stroke-linecap="round"/>
<path d="M1588.2 1008.5L1588.9 1007.3L1589.7 1003.7L1590.4 993.2L1591.1 973.9L1591.8 934.2L1592.6 896.3L1593.3 868.2L1594 842L1594.8 820.6L1595.5 806.9L1596.2 798.3L1597 791.2L1597.7 786.3L1598.4 784.5L1599.1 786.2L1599.9 790.3L1600.6 795.7L1601.3 804.2L1602.1 816.4L1602.8 829.1L1603.5 841.1L1604.3 853.8L1605 866.9L1605.7 846L1606.4 829L1607.2 815.1L1607.9 803.3L1608.6 795.6L1609.4 790.9L1610.1 787L1610.8 784.8L1611.6 785L1612.3 788.1L1613 793.5L1613.7 800L1614.5 810.1L1615.2 825.3L1615.9 843.4L1616.7 862.1L1617.4 883.1L1618.1 907.2L1618.9 930.9L1619.6 950.5L1620.3 966.4L1621 980.2L1621.8 990.1L1622.5 996.9L1623.2 1001.8L1624 1004.3L1624.7 1005.4L1625.4 1004.4L1626.2 1001L1626.9 990.7L1627.7 971.8L1628.4 932.7L1629.2 895.3L1629.9 867.5L1630.7 841.6L1631.4 820.4L1632.1 806.7L1632.9 798.3L1633.6 791.2L1634.4 786.3L1635.1 784.5L1635.9 786.2L1636.6 790.3L1637.4 795.7L1638.1 804.2L1638.9 816.4L1639.6 829.1L1640.3 841.3L1641.1 854L1641.8 867.2L1642.6 846.3L1643.3 829.3L1644.1 815.3L1644.8 803.5L1645.6 795.7L1646.3 790.9L1647 787.1L1647.8 784.8L1648.5 785L1649.3 788.2L1650 793.6L1650.8 800.3L1651.5 810.5L1652.3 826L1653 844.3L1653.8 863.4L1654.5 884.8L1655.2 909.5L1656 933.7L1656.7 953.8L1657.5 970.2L1658.2 984.5L1659 994.8L1659.7 1001.9L1660.5 1007.1L1661.2 1009.8L1662 1011.1L1662.6 1009.7L1663.3 1005.8L1664 994.9L1664.7 975.2L1665.4 935.1L1666.1 896.9L1666.8 868.6L1667.4 842.2L1668.1 820.7L1668.8 806.9L1669.5 798.3L1670.2 791.2L1670.9 786.3L1671.6 784.5L1672.3 786.2L1672.9 790.3L1673.6 795.6L1674.3 804L1675 816.1L1675.7 828.6L1676.4 840.5L1677.1 852.9L1677.8 865.7L1678.4 845L1679.1 828.3L1679.8 814.6L1680.5 803L1681.2 795.4L1681.9 790.7L1682.6 787L1683.3 784.8L1683.9 784.9L1684.6 788L1685.3 793.2L1686 799.6L1686.7 809.4L1687.4 824.1L1688.1 841.6L1688.8 859.6L1689.4 879.8L1690.1 903L1690.8 925.7L1691.5 944.4L1692.2 959.5L1692.9 972.5L1693.6 981.9L1694.3 988.1L1694.9 992.6L1695.6 994.7L1696.3 995.5" stroke="#00ff00" stroke-width="4" fill="none" stroke-linejoin="round" stroke-linecap="round"/>
<path d="M1696 1010L1696.6 1008.8L1697.1 1007.3L1697.7 1005.4L1698.3 1003.3L1698.9 1000.9L1699.5 997.9L1700.1 994.2L1700.7 989.1L1701.3 980.9L1701.8 970.2L1702.4 955.3L1703 935.9L1703.6 914.3L1704.2 889.1L1704.8 860.3L1705.4 832.8L1706 810.3L1706.5 789.4L1707.1 770.2L1707.7 753.5L1708.3 740.3L1708.9 729.6L1709.5 720.1L1710.1 712.6L1710.7 707.7L1711.2 704.5L1711.8 703L1712.4 704.4L1713 707.7L1713.6 713.8L1714.2 723.9L1714.8 736.4L1715.4 749.6L1715.9 764.3L1716.5 781.6L1717.1 800.1L1717.7 818.5L1718.3 835.8L1718.9 852.8L1719.5 869.8L1720.1 886.6L1720.6 903.1L1721.2 919.3L1721.8 935.6L1722.4 951.6L1723 966.5L1723.6 979.8L1724.2 992.1L1724.8 1003.4L1725.3 1013.7L1726 997.2L1726.6 980L1727.2 962.3L1727.9 944.1L1728.5 925.3L1729.1 905.4L1729.7 884.2L1730.4 862.7L1731 841.6L1731.6 821.9L1732.3 803L1732.9 783.6L1733.5 765.1L1734.1 749.3L1734.8 737.7L1735.4 729.6L1736 722.5L1736.7 717.3L1737.3 715.2L1737.9 717.2L1738.5 722.5L1739.2 729.9L1739.8 738.2L1740.4 750.6L1741.1 767.3L1741.7 786.1L1742.3 805.2L1743 822.5L1743.6 839.2L1744.2 856.3L1744.8 872.9L1745.5 888.2L1746.1 901.6L1746.7 914L1747.4 925.6L1748 935.4L1748.6 942.4L1749.2 947.3L1749.9 951.3L1750.5 954.4L1751.1 956.5L1751.8 957.9L1752.4 971.9L1753 979.9L1753.7 983.9L1754.4 994.1L1755.1 1001.3L1755.8 1006.4L1756.5 1009L1757.2 1010.1L1757.7 1008.8L1758.2 1007.3L1758.8 1005.4L1759.3 1003.3L1759.8 1000.9L1760.3 997.9L1760.9 994.2L1761.4 989.1L1761.9 980.9L1762.4 970.2L1763 955.3L1763.5 935.9L1764 914.3L1764.6 889.1L1765.1 860.3L1765.6 832.8L1766.1 810.3L1766.7 789.4L1767.2 770.2L1767.7 753.5L1768.3 740.3L1768.8 729.6L1769.3 720.1L1769.8 712.6L1770.4 707.7L1770.9 704.5L1771.4 703L1771.9 704.4L1772.5 707.7L1773 713.8L1773.5 723.9L1774.1 736.4L1774.6 749.6L1775.1 764.3L1775.6 781.6L1776.2 800.1L1776.7 818.5L1777.2 835.8L1777.7 852.8L1778.3 869.8L1778.8 886.6L1779.3 903.1L1779.9 919.3L1780.4 935.6L1780.9 951.6L1781.4 966.5L1782 979.8L1782.5 992.1L1783 1003.4L1783.6 1013.7L1784.2 997.1L1784.8 980L1785.4 962.2L1786 944L1786.6 925.2L1787.2 905.2L1787.8 884L1788.4 862.4L1789 841.3L1789.6 821.6L1790.2 802.6L1790.8 783.2L1791.4 764.7L1792.1 748.9L1792.7 737.2L1793.3 729.1L1793.9 722L1794.5 716.8L1795.1 714.7L1795.7 716.7L1796.3 722L1796.9 729.4L1797.5 737.7L1798.1 750.1L1798.7 766.8L1799.3 785.7L1799.9 804.8L1800.6 822.1L1801.2 838.9L1801.8 856L1802.4 872.6L1803 888L1803.6 901.4L1804.2 913.8L1804.8 925.5L1805.4 935.3L1806 942.3L1806.6 947.2L1807.2 951.2L1807.8 954.3L1808.4 956.4L1809.1 957.8L1809.7 971.8L1810.3 979.9L1810.9 983.8L1811.6 994.1L1812.2 1001.3L1812.9 1006.4L1813.6 1009L1814.3 1010.1L1814.8 1008.8L1815.4 1007.3L1816 1005.4L1816.5 1003.3L1817.1 1000.9L1817.6 997.9L1818.2 994.2L1818.8 989.1L1819.3 980.9L1819.9 970.2L1820.4 955.3L1821 935.9L1821.6 914.3L1822.1 889.1L1822.7 860.3L1823.2 832.8L1823.8 810.3L1824.4 789.4L1824.9 770.2L1825.5 753.5L1826 740.3L1826.6 729.6L1827.2 720.1L1827.7 712.6L1828.3 707.7L1828.8 704.5L1829.4 703L1830 704.4L1830.5 707.7L1831.1 713.8L1831.6 723.9L1832.2 736.4L1832.8 749.6L1833.3 764.3L1833.9 781.6L1834.5 800.1L1835 818.5L1835.6 835.8L1836.1 852.8L1836.7 869.8L1837.3 886.6L1837.8 903.1L1838.4 919.3L1838.9 935.6L1839.5 951.6L1840.1 966.5L1840.6 979.8L1841.2 992.1L1841.7 1003.4L1842.3 1013.7L1842.9 997.1L1843.6 979.9L1844.2 962.2L1844.8 943.8L1845.4 925L1846.1 905L1846.7 883.8L1847.3 862.1L1848 841L1848.6 821.3L1849.2 802.3L1849.8 782.8L1850.5 764.3L1851.1 748.4L1851.7 736.7L1852.4 728.6L1853 721.5L1853.6 716.3L1854.2 714.2L1854.9 716.2L1855.5 721.5L1856.1 728.9L1856.8 737.2L1857.4 749.7L1858 766.4L1858.6 785.3L1859.3 804.5L1859.9 821.8L1860.5 838.6L1861.2 855.7L1861.8 872.4L1862.4 887.8L1863 901.2L1863.7 913.7L1864.3 925.3L1864.9 935.1L1865.6 942.1L1866.2 947.1L1866.8 951.1L1867.4 954.2L1868.1 956.3L1868.7 957.7L1869.3 971.8L1870 979.8L1870.6 983.7L1871.3 994L1872 1001.3L1872.7 1006.4L1873.4 1009L1874.1 1010.1" stroke="#0000ff" stroke-width="4" fill="none" stroke-linejoin="round" stroke-linecap="round"/>
<path d="M1874.1 1009L1874.7 1007.5L1875.2 1005.5L1875.8 1003.1L1876.4 1000.5L1876.9 997.4L1877.5 993.6L1878 988.9L1878.6 982.4L1879.2 972L1879.7 958.4L1880.3 939.5L1880.8 914.7L1881.4 887.2L1882 855.2L1882.5 818.6L1883.1 783.6L1883.6 755L1884.2 728.4L1884.8 703.9L1885.3 682.7L1885.9 665.9L1886.4 652.3L1887 640.2L1887.6 630.7L1888.1 624.4L1888.7 620.3L1889.2 618.5L1889.8 620.3L1890.4 624.4L1890.9 632.2L1891.5 645.1L1892 661L1892.6 677.7L1893.2 696.5L1893.7 718.5L1894.3 742L1894.8 765.4L1895.4 787.4L1896 809.1L1896.5 830.6L1897.1 852L1897.6 873L1898.2 893.6L1898.8 914.4L1899.3 934.7L1899.9 953.6L1900.5 970.6L1901 986.2L1901.6 1000.7L1902.1 1013.7L1902.7 992.7L1903.3 971L1903.9 948.5L1904.5 925.4L1905.1 901.6L1905.7 876.3L1906.4 849.4L1907 822.1L1907.6 795.3L1908.2 770.4L1908.8 746.4L1909.4 721.7L1910 698.3L1910.6 678.3L1911.2 663.5L1911.8 653.3L1912.4 644.2L1913 637.6L1913.6 635L1914.2 637.5L1914.8 644.3L1915.4 653.6L1916 664.1L1916.6 679.9L1917.2 701L1917.8 725L1918.4 749.1L1919 771.1L1919.6 792.3L1920.2 814L1920.8 835L1921.4 854.5L1922 871.5L1922.6 887.2L1923.2 901.9L1923.8 914.4L1924.4 923.2L1925 929.5L1925.6 934.6L1926.2 938.4L1926.8 941.1L1927.4 942.9L1928 960.7L1928.7 970.9L1929.3 975.8L1929.9 988.8L1930.6 998L1931.3 1004.4L1931.9 1007.8L1932.6 1009.2L1933.2 1007.5L1933.7 1005.5L1934.3 1003.1L1934.8 1000.5L1935.3 997.4L1935.9 993.6L1936.4 988.9L1937 982.4L1937.5 972L1938.1 958.4L1938.6 939.5L1939.1 914.7L1939.7 887.2L1940.2 855.2L1940.8 818.6L1941.3 783.6L1941.9 755L1942.4 728.4L1943 703.9L1943.5 682.7L1944 665.9L1944.6 652.3L1945.1 640.2L1945.7 630.7L1946.2 624.4L1946.8 620.3L1947.3 618.5L1947.9 620.3L1948.4 624.4L1948.9 632.2L1949.5 645.1L1950 661L1950.6 677.7L1951.1 696.5L1951.7 718.5L1952.2 742L1952.7 765.4L1953.3 787.4L1953.8 809.1L1954.4 830.6L1954.9 852L1955.5 873L1956 893.6L1956.6 914.4L1957.1 934.7L1957.6 953.6L1958.2 970.6L1958.7 986.2L1959.3 1000.7L1959.8 1013.7L1960.4 994.2L1961 974L1961.6 953.2L1962.2 931.7L1962.8 909.6L1963.4 886.2L1964 861.2L1964.6 835.8L1965.1 810.9L1965.7 787.8L1966.3 765.5L1966.9 742.6L1967.5 720.9L1968.1 702.3L1968.7 688.5L1969.3 679.1L1969.9 670.7L1970.5 664.5L1971.1 662.1L1971.7 664.4L1972.2 670.7L1972.8 679.4L1973.4 689.1L1974 703.8L1974.6 723.4L1975.2 745.6L1975.8 768.1L1976.4 788.4L1977 808.2L1977.6 828.3L1978.2 847.8L1978.8 865.9L1979.3 881.7L1979.9 896.3L1980.5 909.9L1981.1 921.5L1981.7 929.7L1982.3 935.5L1982.9 940.2L1983.5 943.8L1984.1 946.3L1984.7 948L1985.3 964.5L1985.9 973.9L1986.5 978.5L1987.1 990.6L1987.8 999.1L1988.4 1005.1L1989.1 1008.2L1989.8 1009.5L1990.3 1007.5L1990.8 1005.5L1991.4 1003.1L1991.9 1000.5L1992.5 997.4L1993 993.6L1993.6 988.9L1994.1 982.4L1994.7 972L1995.2 958.4L1995.7 939.5L1996.3 914.7L1996.8 887.2L1997.4 855.2L1997.9 818.6L1998.5 783.6L1999 755L1999.5 728.4L2000.1 703.9L2000.6 682.7L2001.2 665.9L2001.7 652.3L2002.3 640.2L2002.8 630.7L2003.4 624.4L2003.9 620.3L2004.4 618.5L2005 620.3L2005.5 624.4L2006.1 632.2L2006.6 645.1L2007.2 661L2007.7 677.7L2008.2 696.5L2008.8 718.5L2009.3 742L2009.9 765.4L2010.4 787.4L2011 809.1L2011.5 830.6L2012.1 852L2012.6 873L2013.1 893.6L2013.7 914.4L2014.2 934.7L2014.8 953.6L2015.3 970.6L2015.9 986.2L2016.4 1000.7L2016.9 1013.7L2017.6 994.1L2018.2 973.8L2018.8 952.8L2019.4 931.2L2020 909L2020.6 885.4L2021.2 860.3L2021.8 834.7L2022.4 809.7L2023 786.5L2023.7 764L2024.3 741L2024.9 719.2L2025.5 700.4L2026.1 686.6L2026.7 677.1L2027.3 668.6L2027.9 662.5L2028.5 660L2029.1 662.4L2029.8 668.7L2030.4 677.4L2031 687.2L2031.6 701.9L2032.2 721.7L2032.8 744L2033.4 766.6L2034 787.1L2034.6 807L2035.2 827.2L2035.8 846.8L2036.5 865L2037.1 880.9L2037.7 895.6L2038.3 909.3L2038.9 920.9L2039.5 929.2L2040.1 935.1L2040.7 939.8L2041.3 943.4L2041.9 945.9L2042.6 947.6L2043.2 964.2L2043.8 973.7L2044.4 978.3L2045.1 990.5L2045.8 999.1L2046.4 1005L2047.1 1008.2L2047.8 1009.5" stroke="#ff7f0e" stroke-width="4" fill="none" stroke-linejoin="round" stroke-linecap="round"/>
<path d="M1515.6 1015.3v7M1613.2 1015.3v7M1710.8 1015.3v7M1808.3 1015.3v7M1905.9 1015.3v7M2003.5 1015.3v7M1564.4 1015.3v3.2M1662 1015.3v3.2M1759.5 1015.3v3.2M1857.1 1015.3v3.2M1954.7 1015.3v3.2M2052.3 1015.3v3.2" stroke="#000" stroke-width="3.8" fill="none"/>
<g font-size="29.5" text-anchor="middle"><text x="1515.6" y="1051.7">0</text><text x="1613.2" y="1051.7">500</text><text x="1710.8" y="1051.7">1000</text><text x="1808.3" y="1051.7">1500</text><text x="1905.9" y="1051.7">2000</text><text x="2003.5" y="1051.7">2500</text></g>
<path d="M1504.4 1013.7h-7M1504.4 961.6h-7M1504.4 909.5h-7M1504.4 857.4h-7M1504.4 805.4h-7M1504.4 753.3h-7M1504.4 701.2h-7M1504.4 649.1h-7M1504.4 597h-7M1504.4 987.7h-3.2M1504.4 935.6h-3.2M1504.4 883.5h-3.2M1504.4 831.4h-3.2M1504.4 779.3h-3.2M1504.4 727.2h-3.2M1504.4 675.1h-3.2M1504.4 623h-3.2" stroke="#000" stroke-width="3.8" fill="none"/>
<g font-size="29.5" text-anchor="end"><text x="1491.2" y="1023.1">0</text><text x="1491.2" y="971">1</text><text x="1491.2" y="918.9">2</text><text x="1491.2" y="866.8">3</text><text x="1491.2" y="814.7">4</text><text x="1491.2" y="762.6">5</text><text x="1491.2" y="710.6">6</text><text x="1491.2" y="658.5">7</text><text x="1491.2" y="606.4">8</text></g>
<text x="1783.6" y="1082" font-size="37.8" text-anchor="middle">Time(s)</text>
<text transform="translate(1458.3 782.3) rotate(-90)" font-size="37" text-anchor="middle">ΔR/R<tspan font-size="24" dy="7">0</tspan></text>
<text x="1565" y="651" font-size="41" fill="#ff0000">(f)</text>
<path d="M1537.7 592.2H1589.8" stroke="#ff0000" stroke-width="4" stroke-linecap="round"/>
<text x="1597.5" y="600.2" font-size="22.2">100%</text>
<path d="M1660.6 592.2H1712.3" stroke="#00ff00" stroke-width="4" stroke-linecap="round"/>
<text x="1719.5" y="600.2" font-size="22.2">200%</text>
<path d="M1783.3 592.2H1834.7" stroke="#0000ff" stroke-width="4" stroke-linecap="round"/>
<text x="1841.7" y="600.2" font-size="22.2">300%</text>
<path d="M1905.5 592.2H1956.7" stroke="#ff7f0e" stroke-width="4" stroke-linecap="round"/>
<text x="1963.7" y="600.2" font-size="22.2">400%</text></g>
<g id="pg"><rect x="120.1" y="1136" width="547.2" height="440.3" fill="none" stroke="#000" stroke-width="4.2"/>
<path d="M130.6 1575L147.5 1556.9L174.8 1528.7L344.5 1377.5" stroke="#ff0000" stroke-width="4.6" fill="none" stroke-linejoin="round" stroke-linecap="round"/>
<path d="M339 1385L604.2 1213.5" stroke="#ff0000" stroke-width="4.4" fill="none" stroke-linejoin="round" stroke-linecap="round"/>
<path d="M129.9 1574.1L137.3 1566.9L144.7 1559L152.1 1551.3L159.5 1543.7L166.9 1536L174.3 1528.4L181.6 1521.8L189 1515.1L196.4 1508.4L203.8 1501.6L211.2 1494.8L218.6 1488.1L226 1481.3L233.3 1474.6L240.7 1467.8L248.1 1461L255.5 1454.4L262.9 1447.8L270.3 1441.2L277.7 1434.6L285 1428L292.4 1421.4L299.8 1414.9L307.2 1408.3L314.6 1401.7L322 1395.1L329.4 1388.5L336.7 1381.9L344.1 1375.3L345.1 1379.9L346.1 1380L369.5 1364.8L393 1349.7L416.4 1334.5L439.8 1319.4L463.2 1304.2L486.7 1289.1L510.1 1273.9L533.5 1258.8L557 1243.6L580.4 1228.5L603.8 1213.3" stroke="#141414" stroke-width="2.2" fill="none" stroke-linejoin="round" stroke-linecap="round"/>
<path d="M120.1 1577.9v7M229.5 1577.9v7M339 1577.9v7M448.4 1577.9v7M557.9 1577.9v7M667.3 1577.9v7M174.8 1577.9v3.2M284.3 1577.9v3.2M393.7 1577.9v3.2M503.1 1577.9v3.2M612.6 1577.9v3.2" stroke="#000" stroke-width="3.8" fill="none"/>
<g font-size="29.5" text-anchor="middle"><text x="120.1" y="1614">0</text><text x="229.5" y="1614">100</text><text x="339" y="1614">200</text><text x="448.4" y="1614">300</text><text x="557.9" y="1614">400</text><text x="667.3" y="1614">500</text></g>
<path d="M118.5 1576.3h-7M118.5 1488.2h-7M118.5 1400.2h-7M118.5 1312.1h-7M118.5 1224.1h-7M118.5 1136h-7M118.5 1532.3h-3.2M118.5 1444.2h-3.2M118.5 1356.2h-3.2M118.5 1268.1h-3.2M118.5 1180h-3.2" stroke="#000" stroke-width="3.8" fill="none"/>
<g font-size="29.5" text-anchor="end"><text x="104.9" y="1585.7">0</text><text x="104.9" y="1497.6">2</text><text x="104.9" y="1409.6">4</text><text x="104.9" y="1321.5">6</text><text x="104.9" y="1233.4">8</text><text x="104.9" y="1145.4">10</text></g>
<text x="394.1" y="1642.6" font-size="37.2" text-anchor="middle">Strain(%)</text>
<text transform="translate(78.8 1345.2) rotate(-90)" font-size="37" text-anchor="middle">ΔR/R0</text>
<text x="141.7" y="1181.5" font-size="41" fill="#ff0000">(g)</text>
<text transform="translate(271.5 1490) rotate(-43.7)" font-size="22.5" text-anchor="middle">y=2.226x-0.047</text>
<text transform="translate(533 1300) rotate(-34.5)" font-size="22.5" text-anchor="middle">y=1.607x+1.141</text></g>
<g id="ph"><rect x="817.9" y="1140" width="541" height="434.5" fill="none" stroke="#000" stroke-width="4.2"/>
<path d="M818.9 1541.2L820.5 1523L822 1498.3L823.6 1472L825.1 1449.1L826.7 1431L828.2 1414L829.8 1398.1L831.3 1383.1L832.9 1369.1L834.4 1355.6L836 1342.2L837.6 1329.4L839.1 1318L840.7 1308.8L842.2 1302L843.8 1296.4L845.3 1291.5L846.9 1287.4L848.4 1283.9L850 1280.9L851.5 1278.6L853.1 1276.4L854.7 1273.9L856.2 1270.8L857.8 1267.4L859.3 1263.7L860.5 1271.8L861.7 1280L863.3 1278.5L864.9 1279.2L866.4 1280.5L868 1282.2L869.6 1283.7L871.2 1285.2L872.8 1286.8L874.4 1288.7L876 1291L877.6 1293.9L879.2 1298.7L880.7 1305.6L882.3 1314.3L883.9 1324.2L885.5 1335L887.1 1346.3L888.7 1359.8L890.3 1375.8L891.9 1393.2L893.4 1411.2L895 1429.4L896.6 1449.7L898.2 1470.8L899.8 1490L901.4 1505.2L903 1517.6L904.6 1527.5L906.2 1534.3L907.6 1552.1L909 1558.8L910.4 1561.2L911.9 1554.7L913.5 1544.1L915 1525.7L916.5 1500.6L918 1473.9L919.6 1450.8L921.1 1432.4L922.6 1415.2L924.1 1399.1L925.7 1384L927.2 1369.9L928.7 1356.3L930.2 1342.7L931.8 1329.8L933.3 1318.3L934.8 1309L936.3 1302.2L937.9 1296.5L939.4 1291.7L940.9 1287.5L942.4 1283.9L944 1281L945.5 1278.6L947 1276.5L948.5 1273.9L950.1 1270.8L951.6 1267.4L953.1 1263.7L954.3 1271.8L955.4 1280L957 1278.5L958.5 1279.1L960.1 1280.5L961.7 1282.2L963.2 1283.7L964.8 1285.2L966.3 1286.7L967.9 1288.6L969.4 1290.9L971 1293.8L972.6 1298.6L974.1 1305.4L975.7 1314L977.2 1323.9L978.8 1334.6L980.4 1345.8L981.9 1359.2L983.5 1375L985 1392.3L986.6 1410.2L988.1 1428.1L989.7 1448.3L991.3 1469L992.8 1488L994.4 1503L995.9 1515.2L997.5 1524.9L999 1531.6L1000.4 1549.1L1001.8 1555.5L1003.2 1557.9L1004.8 1551.4L1006.4 1540.9L1007.9 1522.6L1009.5 1497.8L1011 1471.4L1012.6 1448.6L1014.2 1430.4L1015.7 1413.4L1017.3 1397.4L1018.9 1382.5L1020.4 1368.5L1022 1355.1L1023.6 1341.7L1025.1 1329L1026.7 1317.6L1028.3 1308.4L1029.8 1301.7L1031.4 1296.1L1032.9 1291.3L1034.5 1287.2L1036.1 1283.7L1037.6 1280.7L1039.2 1278.4L1040.8 1276.3L1042.3 1273.8L1043.9 1270.7L1045.5 1267.3L1047 1263.7L1048.2 1271.7L1049.4 1279.7L1051 1278.3L1052.6 1278.9L1054.2 1280.3L1055.8 1281.9L1057.4 1283.4L1059 1284.8L1060.6 1286.4L1062.2 1288.2L1063.8 1290.5L1065.4 1293.3L1067 1298L1068.6 1304.7L1070.2 1313.2L1071.8 1322.9L1073.4 1333.4L1075 1344.4L1076.6 1357.6L1078.2 1373.1L1079.8 1390L1081.4 1407.5L1083 1425.1L1084.6 1444.9L1086.2 1465.3L1087.8 1483.9L1089.4 1498.6L1091 1510.5L1092.6 1519.9L1094.2 1526.5L1095.6 1543.6L1097 1549.9L1098.4 1552.2L1099.9 1545.9L1101.5 1535.7L1103 1517.8L1104.5 1493.5L1106 1467.7L1107.5 1445.3L1109 1427.5L1110.5 1410.8L1112 1395.2L1113.5 1380.5L1115 1366.8L1116.5 1353.6L1118 1340.4L1119.6 1327.9L1121.1 1316.8L1122.6 1307.7L1124.1 1301.1L1125.6 1295.6L1127.1 1290.9L1128.6 1286.8L1130.1 1283.4L1131.6 1280.5L1133.1 1278.2L1134.6 1276.1L1136.1 1273.7L1137.6 1270.6L1139.2 1267.3L1140.7 1263.7L1141.8 1271.6L1143 1279.5L1144.5 1278.1L1146 1278.7L1147.6 1280.1L1149.1 1281.7L1150.7 1283.2L1152.2 1284.6L1153.7 1286.1L1155.3 1288L1156.8 1290.2L1158.4 1293L1159.9 1297.7L1161.4 1304.4L1163 1312.8L1164.5 1322.4L1166.1 1332.9L1167.6 1343.8L1169.1 1356.9L1170.7 1372.3L1172.2 1389.2L1173.8 1406.6L1175.3 1424.2L1176.9 1443.9L1178.4 1464.2L1179.9 1482.7L1181.5 1497.4L1183 1509.3L1184.6 1518.8L1186.1 1525.4L1187.5 1542.5L1188.9 1548.9L1190.2 1551.2" stroke="#3a3a3a" stroke-width="3.8" fill="none" stroke-linejoin="round" stroke-linecap="round"/>
<path d="M1191.3 1551.2L1191.7 1525.6L1192.2 1500.3L1192.7 1475.4L1193.2 1450.8L1193.7 1425.9L1194.2 1400.8L1194.7 1377L1195.2 1356.2L1195.7 1337.6L1196.2 1320.2L1196.7 1305.1L1197.2 1293.1L1197.7 1283.3L1198.2 1275L1198.6 1269.4L1199.1 1266.2L1199.6 1264.4L1200.1 1267.3L1200.6 1274.6L1201.1 1280.5L1201.6 1286.5L1202.1 1293.1L1202.6 1300.4L1203.1 1308.4L1203.6 1317.3L1204.1 1327.5L1204.6 1339.8L1205.1 1354.4L1205.5 1370.5L1206 1387.5L1206.5 1404.5L1207 1421.6L1207.5 1440L1208 1458.7L1208.5 1477L1209 1493.8L1209.5 1509.4L1210 1524.1L1210.5 1538.1L1211 1551.2L1211.4 1525.6L1211.9 1500.3L1212.3 1475.4L1212.8 1450.8L1213.2 1425.9L1213.7 1400.8L1214.1 1377L1214.6 1356.2L1215 1337.6L1215.5 1320.2L1215.9 1305.1L1216.4 1293.1L1216.8 1283.3L1217.3 1275L1217.7 1269.4L1218.2 1266.2L1218.6 1264.4L1219.1 1267.3L1219.5 1274.6L1220 1280.5L1220.4 1286.5L1220.9 1293.1L1221.3 1300.4L1221.8 1308.4L1222.2 1317.3L1222.7 1327.5L1223.1 1339.8L1223.6 1354.4L1224 1370.5L1224.5 1387.5L1224.9 1404.5L1225.4 1421.6L1225.8 1440L1226.3 1458.7L1226.7 1477L1227.2 1493.8L1227.6 1509.4L1228.1 1524.1L1228.5 1538.1L1229 1551.2L1229.5 1525.6L1229.9 1500.3L1230.4 1475.4L1230.8 1450.8L1231.3 1425.9L1231.7 1400.8L1232.2 1377L1232.6 1356.2L1233.1 1337.6L1233.5 1320.2L1234 1305.1L1234.4 1293.1L1234.9 1283.3L1235.3 1275L1235.8 1269.4L1236.2 1266.2L1236.7 1264.4L1237.1 1267.3L1237.6 1274.6L1238 1280.5L1238.5 1286.5L1239 1293.1L1239.4 1300.4L1239.9 1308.4L1240.3 1317.3L1240.8 1327.5L1241.2 1339.8L1241.7 1354.4L1242.1 1370.5L1242.6 1387.5L1243 1404.5L1243.5 1421.6L1243.9 1440L1244.4 1458.7L1244.8 1477L1245.3 1493.8L1245.7 1509.4L1246.2 1524.1L1246.6 1538.1L1247.1 1551.2L1247.6 1525.6L1248 1500.3L1248.5 1475.4L1249 1450.8L1249.5 1425.9L1249.9 1400.8L1250.4 1377L1250.9 1356.2L1251.4 1337.6L1251.8 1320.2L1252.3 1305.1L1252.8 1293.1L1253.3 1283.3L1253.7 1275L1254.2 1269.4L1254.7 1266.2L1255.2 1264.4L1255.6 1267.3L1256.1 1274.6L1256.6 1280.5L1257.1 1286.5L1257.5 1293.1L1258 1300.4L1258.5 1308.4L1259 1317.3L1259.4 1327.5L1259.9 1339.8L1260.4 1354.4L1260.9 1370.5L1261.3 1387.5L1261.8 1404.5L1262.3 1421.6L1262.8 1440L1263.2 1458.7L1263.7 1477L1264.2 1493.8L1264.7 1509.4L1265.1 1524.1L1265.6 1538.1L1266.1 1551.2" stroke="#ff7f0e" stroke-width="4" fill="none" stroke-linejoin="round" stroke-linecap="round"/>
<path d="M1266.1 1543.9L1266.5 1510.6L1266.9 1478L1267.3 1446L1267.7 1413.5L1268.1 1381.6L1268.5 1353.8L1268.9 1329.9L1269.3 1308.6L1269.7 1292.3L1270.2 1279.9L1270.6 1270.7L1271 1266.2L1271.4 1264.5L1271.8 1271.9L1272.2 1280.1L1272.6 1287.9L1273 1297L1273.4 1307.2L1273.8 1319.1L1274.2 1333.6L1274.6 1352.1L1275 1373.3L1275.4 1395.4L1275.9 1417.6L1276.3 1441.6L1276.7 1465.7L1277.1 1488L1277.5 1508L1277.9 1526.6L1278.3 1543.9L1278.7 1510.6L1279.1 1478L1279.5 1446L1279.9 1413.5L1280.3 1381.6L1280.7 1353.8L1281.1 1329.9L1281.5 1308.6L1282 1292.3L1282.4 1279.9L1282.8 1270.7L1283.2 1266.2L1283.6 1264.5L1284 1271.9L1284.4 1280.1L1284.8 1287.9L1285.2 1297L1285.6 1307.2L1286 1319.1L1286.4 1333.6L1286.8 1352.1L1287.2 1373.3L1287.6 1395.4L1288.1 1417.6L1288.5 1441.6L1288.9 1465.7L1289.3 1488L1289.7 1508L1290.1 1526.6L1290.5 1543.9L1290.9 1510.6L1291.3 1478L1291.7 1446L1292.1 1413.5L1292.5 1381.6L1292.9 1353.8L1293.3 1329.9L1293.7 1308.6L1294.2 1292.3L1294.6 1279.9L1295 1270.7L1295.4 1266.2L1295.8 1264.5L1296.2 1271.9L1296.6 1280.1L1297 1287.9L1297.4 1297L1297.8 1307.2L1298.2 1319.1L1298.6 1333.6L1299 1352.1L1299.4 1373.3L1299.8 1395.4L1300.3 1417.6L1300.7 1441.6L1301.1 1465.7L1301.5 1488L1301.9 1508L1302.3 1526.6L1302.7 1543.9L1303.1 1510.6L1303.5 1478L1303.9 1446L1304.3 1413.5L1304.7 1381.6L1305.2 1353.8L1305.6 1329.9L1306 1308.6L1306.4 1292.3L1306.8 1279.9L1307.2 1270.7L1307.6 1266.2L1308 1264.5L1308.4 1271.9L1308.9 1280.1L1309.3 1287.9L1309.7 1297L1310.1 1307.2L1310.5 1319.1L1310.9 1333.6L1311.3 1352.1L1311.7 1373.3L1312.1 1395.4L1312.6 1417.6L1313 1441.6L1313.4 1465.7L1313.8 1488L1314.2 1508L1314.6 1526.6L1315 1543.9" stroke="#1060d8" stroke-width="4" fill="none" stroke-linejoin="round" stroke-linecap="round"/>
<path d="M1315.6 1544.5L1316 1511.2L1316.3 1478.6L1316.6 1446.5L1317 1413.9L1317.3 1381.9L1317.6 1354L1318 1329.9L1318.3 1308.6L1318.6 1292.2L1319 1279.7L1319.3 1270.5L1319.7 1265.9L1320 1264.1L1320.3 1271.7L1320.7 1279.9L1321 1287.8L1321.3 1297L1321.7 1307.3L1322 1319.3L1322.4 1333.9L1322.7 1352.6L1323 1374L1323.4 1396.4L1323.7 1418.9L1324 1443.2L1324.4 1467.7L1324.7 1490.2L1325 1510.5L1325.4 1529.5L1325.7 1547L1326.1 1513.5L1326.4 1480.5L1326.7 1448.1L1327.1 1415.2L1327.4 1382.9L1327.8 1354.8L1328.1 1330.5L1328.5 1309L1328.8 1292.4L1329.1 1279.8L1329.5 1270.5L1329.8 1265.9L1330.2 1264.1L1330.5 1271.7L1330.9 1280L1331.2 1288L1331.5 1297.3L1331.9 1307.7L1332.2 1319.8L1332.6 1334.5L1332.9 1353.4L1333.3 1375L1333.6 1397.6L1333.9 1420.3L1334.3 1444.8L1334.6 1469.5L1335 1492.2L1335.3 1512.7L1335.7 1531.8L1336 1549.5L1336.3 1515.6L1336.6 1482.3L1336.9 1449.6L1337.2 1416.4L1337.5 1383.8L1337.8 1355.4L1338.1 1330.9L1338.4 1309.3L1338.7 1292.6L1339 1279.9L1339.3 1270.6L1339.6 1265.9L1339.9 1264.1L1340.2 1271.8L1340.5 1280.1L1340.8 1288.1L1341.1 1297.4L1341.4 1307.8L1341.7 1319.9L1342 1334.7L1342.3 1353.6L1342.6 1375.3L1342.9 1397.9L1343.2 1420.6L1343.5 1445.1L1343.8 1469.7L1344.1 1492.4L1344.4 1512.9L1344.7 1531.9L1345 1549.5L1345.3 1515.7L1345.6 1482.4L1346 1449.8L1346.3 1416.6L1346.6 1384L1346.9 1355.6L1347.2 1331.1L1347.5 1309.4L1347.8 1292.7L1348.1 1280L1348.5 1270.6L1348.8 1265.9L1349.1 1264.1L1349.4 1271.8L1349.7 1280.2L1350 1288.2L1350.3 1297.6L1350.6 1308L1351 1320.2L1351.3 1335.1L1351.6 1354.2L1351.9 1376L1352.2 1398.8L1352.5 1421.7L1352.8 1446.4L1353.1 1471.3L1353.5 1494.2L1353.8 1514.9L1354.1 1534.2L1354.4 1552" stroke="#ff80ff" stroke-width="3.8" fill="none" stroke-linejoin="round" stroke-linecap="round"/>
<path d="M817.9 1576.1v7M908.1 1576.1v7M998.2 1576.1v7M1088.4 1576.1v7M1178.6 1576.1v7M1268.7 1576.1v7M1358.9 1576.1v7M863 1576.1v3.2M953.1 1576.1v3.2M1043.3 1576.1v3.2M1133.5 1576.1v3.2M1223.7 1576.1v3.2M1313.8 1576.1v3.2" stroke="#000" stroke-width="3.8" fill="none"/>
<g font-size="29.5" text-anchor="middle"><text x="817.9" y="1611.5">0</text><text x="908.1" y="1611.5">150</text><text x="998.2" y="1611.5">300</text><text x="1088.4" y="1611.5">450</text><text x="1178.6" y="1611.5">600</text><text x="1268.7" y="1611.5">750</text><text x="1358.9" y="1611.5">900</text></g>
<path d="M816.3 1557.9h-7M816.3 1474.3h-7M816.3 1390.7h-7M816.3 1307.2h-7M816.3 1223.6h-7M816.3 1140h-7M816.3 1516.1h-3.2M816.3 1432.5h-3.2M816.3 1349h-3.2M816.3 1265.4h-3.2M816.3 1181.8h-3.2" stroke="#000" stroke-width="3.8" fill="none"/>
<g font-size="29.5" text-anchor="end"><text x="802.9" y="1567.3">0.00</text><text x="802.9" y="1483.7">0.05</text><text x="802.9" y="1400.1">0.10</text><text x="802.9" y="1316.5">0.15</text><text x="802.9" y="1233">0.20</text><text x="802.9" y="1149.4">0.25</text></g>
<text x="1088.1" y="1644.1" font-size="37.5" text-anchor="middle">Time(s)</text>
<text transform="translate(739 1348.3) rotate(-90)" font-size="37" text-anchor="middle">ΔR/R<tspan font-size="24" dy="7">0</tspan></text>
<text x="836" y="1191.3" font-size="41" fill="#ff0000">(h)</text>
<path d="M892 1174H941.5" stroke="#3a3a3a" stroke-width="4" stroke-linecap="round"/>
<text x="949.8" y="1182.5" font-size="22">10 mm/min</text>
<path d="M1064.7 1174H1114.5" stroke="#ff7f0e" stroke-width="4" stroke-linecap="round"/>
<text x="1121.9" y="1182.5" font-size="22">50 mm/min</text>
<path d="M892 1203H942.3" stroke="#1060d8" stroke-width="4" stroke-linecap="round"/>
<text x="949.8" y="1210.5" font-size="22">75 mm/min</text>
<path d="M1064.7 1203H1114.5" stroke="#ff80ff" stroke-width="4" stroke-linecap="round"/>
<text x="1121.9" y="1210.5" font-size="22">100 mm/min</text></g>
<g id="pi"><rect x="1510.4" y="1139.4" width="547.6" height="438.3" fill="none" stroke="#000" stroke-width="4.2"/>
<rect x="1768" y="1355.1" width="31.6" height="221.6" fill="#ff80fa"/>
<path d="M1672.3 1329.4L1768 1369.1M1908.9 1329.4L1799.6 1370" stroke="#ffa4ff" stroke-width="1.7" fill="none"/>
<path d="M1521.4 1563.1L1522.3 1498.9L1523.1 1438L1524 1380.3L1524.2 1389.5L1524.4 1398.6L1525.2 1430.3L1526 1462.7L1526.8 1495.5L1527.7 1529L1528.5 1563.1L1529.4 1514.2L1530.2 1468L1531.1 1423.6L1532 1381L1532.2 1390.1L1532.4 1399.1L1533.4 1438.6L1534.4 1478.9L1535.5 1520.1L1536.5 1562.3L1537.4 1513.5L1538.2 1467.5L1539.1 1423.2L1540 1380.7L1540.2 1389.8L1540.4 1398.8L1541.2 1438.1L1542.1 1478.3L1542.9 1519.4L1543.8 1561.4L1544.5 1516L1545.2 1469.7L1546 1425.1L1546.7 1382.3L1546.9 1391.4L1547 1400.5L1547.8 1440.1L1548.6 1480.6L1549.4 1521.9L1550.2 1564.2L1550.9 1514.5L1551.6 1468.6L1552.3 1424.4L1553 1382.1L1553.1 1391.1L1553.3 1400.1L1554 1439.3L1554.7 1479.4L1555.5 1520.4L1556.2 1562.3L1557 1497.9L1557.9 1436.9L1558.7 1379L1558.8 1388.2L1559 1397.3L1559.7 1437.2L1560.5 1478L1561.2 1519.6L1561.9 1562.3L1562.6 1513.6L1563.2 1466.8L1563.9 1421.9L1564.5 1378.7L1564.6 1387.9L1564.8 1397.1L1565.5 1437L1566.3 1477.8L1567 1519.6L1567.7 1562.3L1568.4 1515.6L1569 1468.8L1569.7 1423.9L1570.3 1380.7L1570.4 1389.9L1570.6 1399.1L1571.3 1439L1572 1479.8L1572.6 1521.6L1573.3 1564.2L1573.9 1514.9L1574.5 1468.6L1575.1 1424L1575.7 1381.3L1575.8 1390.4L1576 1399.5L1576.6 1439L1577.3 1479.5L1577.9 1520.8L1578.6 1563.1L1579.1 1515.7L1579.7 1469L1580.2 1424.1L1580.8 1381L1580.9 1390.2L1581.1 1399.3L1581.7 1439.2L1582.3 1479.9L1583 1521.6L1583.6 1564.2L1584.3 1498L1585.1 1437.8L1585.8 1380.7L1585.9 1389.8L1586.1 1398.8L1586.8 1438.1L1587.5 1478.3L1588.2 1519.4L1588.9 1561.4L1589.8 1497.5L1590.6 1436.9L1591.4 1379.4L1591.6 1388.5L1591.7 1397.6L1592.6 1437.2L1593.4 1477.7L1594.3 1519.1L1595.2 1561.4L1596.1 1498.3L1597.1 1436.8L1598.1 1378.6L1598.3 1387.8L1598.5 1397.1L1599.4 1437.2L1600.3 1478.2L1601.3 1520.2L1602.2 1563.1L1603.1 1513.3L1603.9 1466.3L1604.7 1421.1L1605.5 1377.7L1605.7 1386.9L1605.9 1396.1L1606.7 1436.3L1607.6 1477.3L1608.5 1519.3L1609.4 1562.3L1610.2 1512.9L1611 1467.4L1611.7 1423.7L1612.5 1381.7L1612.7 1390.6L1612.8 1399.5L1613.7 1438.4L1614.6 1478.1L1615.5 1518.7L1616.4 1560.3L1617.2 1512.7L1618 1466.9L1618.7 1423L1619.5 1380.7L1619.7 1389.7L1619.8 1398.7L1620.6 1437.8L1621.5 1477.7L1622.3 1518.5L1623.1 1560.3L1623.8 1514.2L1624.5 1468L1625.2 1423.6L1625.9 1381L1626.1 1390.1L1626.2 1399.1L1627 1438.6L1627.8 1478.9L1628.6 1520.1L1629.4 1562.3L1630.1 1514.8L1630.8 1468.3L1631.5 1423.6L1632.2 1380.7L1632.4 1389.9L1632.5 1399L1633.3 1438.6L1634.1 1479.2L1634.9 1520.7L1635.7 1563.1L1636.6 1498L1637.5 1438L1638.4 1381L1638.6 1390L1638.7 1399.1L1639.6 1438.3L1640.6 1478.4L1641.5 1519.5L1642.4 1561.4L1643.2 1514.9L1643.9 1468.6L1644.7 1424L1645.5 1381.3L1645.7 1390.4L1645.8 1399.5L1646.6 1439L1647.5 1479.5L1648.3 1520.8L1649.1 1563.1L1650 1498.3L1651 1436.8L1651.9 1378.6L1652.1 1387.8L1652.2 1397.1L1653.2 1437.2L1654.1 1478.2L1655.1 1520.2L1656 1563.1L1656.9 1514.8L1657.7 1468.4L1658.5 1423.8L1659.3 1381L1659.5 1390.1L1659.7 1399.2L1660.6 1438.8L1661.5 1479.3L1662.4 1520.8L1663.3 1563.1L1664.4 1495.7L1665.4 1434.4L1666.5 1376.3L1666.7 1385.5L1666.9 1394.7L1667.9 1434.7L1668.9 1475.7L1670 1517.5L1671 1560.3L1671.9 1512.3L1672.7 1465.2L1673.6 1419.8L1674.5 1376.3L1674.7 1385.6L1674.9 1394.8L1675.8 1435.1L1676.7 1476.3L1677.6 1518.4L1678.5 1561.4L1679.5 1499.8L1680.6 1438.7L1681.6 1380.7L1681.8 1389.9L1682 1399.1L1683 1439L1684 1479.8L1685.1 1521.6L1686.1 1564.2L1687 1515L1687.8 1468.8L1688.7 1424.3L1689.6 1381.7L1689.8 1390.8L1690 1399.8L1690.9 1439.3L1691.8 1479.6L1692.8 1520.9L1693.7 1563.1L1694.8 1498L1695.8 1437.1L1696.9 1379.4L1697.1 1388.6L1697.3 1397.7L1698.4 1437.5L1699.4 1478.1L1700.5 1519.7L1701.5 1562.3L1702.5 1514L1703.4 1468.4L1704.3 1424.6L1705.2 1382.6L1705.4 1391.6L1705.6 1400.5L1706.5 1439.4L1707.4 1479.2L1708.3 1519.8L1709.2 1561.4L1710.2 1499.1L1711.3 1438.5L1712.3 1381L1712.5 1390.1L1712.7 1399.2L1713.6 1438.8L1714.5 1479.3L1715.5 1520.8L1716.4 1563.1L1717.5 1499.4L1718.5 1439.9L1719.6 1383.4L1719.8 1392.4L1720 1401.3L1721 1440.2L1722 1480L1723 1520.7L1724 1562.3L1724.8 1515.1L1725.7 1467.9L1726.5 1422.6L1727.4 1379L1727.6 1388.3L1727.8 1397.5L1728.8 1437.8L1729.7 1479L1730.7 1521.2L1731.7 1564.2L1732.5 1513.2L1733.3 1466.1L1734.2 1420.8L1735 1377.3L1735.2 1386.5L1735.4 1395.8L1736.3 1436L1737.3 1477.2L1738.3 1519.2L1739.3 1562.3L1740.1 1515.7L1740.9 1469L1741.8 1424.1L1742.6 1381L1742.8 1390.2L1743 1399.3L1743.9 1439.2L1744.8 1479.9L1745.8 1521.6L1746.7 1564.2L1747.8 1497.6L1748.8 1437L1749.9 1379.7L1750.1 1388.8L1750.3 1397.8L1751.2 1437.4L1752.2 1477.8L1753.1 1519.1L1754 1561.4L1754.9 1515.2L1755.7 1468.1L1756.5 1422.9L1757.3 1379.4L1757.5 1388.7L1757.7 1397.9L1758.6 1438.1L1759.6 1479.2L1760.5 1521.3L1761.4 1564.2L1762.3 1513.8L1763.1 1467.2L1763.9 1422.4L1764.7 1379.4L1764.9 1388.6L1765.1 1397.7L1766 1437.5L1766.9 1478.1L1767.9 1519.7L1768.8 1562.3L1769.9 1496.8L1770.9 1436.7L1772 1379.7L1772.2 1388.7L1772.4 1397.7L1773.3 1437L1774.3 1477.2L1775.2 1518.3L1776.1 1560.3L1777 1514.2L1777.8 1468.9L1778.6 1425.3L1779.4 1383.4L1779.6 1392.3L1779.8 1401.2L1780.7 1439.9L1781.7 1479.5L1782.6 1520L1783.5 1561.4L1784.4 1512.5L1785.2 1466.5L1786 1422.3L1786.8 1379.9L1787 1389L1787.2 1398L1788.1 1437.2L1789 1477.3L1790 1518.3L1790.9 1560.3L1792 1497.7L1793 1438.3L1794.1 1382.1L1794.3 1391L1794.5 1399.9L1795.4 1438.7L1796.4 1478.3L1797.4 1518.8L1798.4 1560.3L1799.5 1500L1800.6 1441L1801.7 1385L1801.9 1393.9L1802.1 1402.7L1803.2 1441.3L1804.3 1480.7L1805.4 1521L1806.5 1562.3L1807.5 1514.6L1808.4 1468.7L1809.4 1424.6L1810.3 1382.3L1810.5 1391.3L1810.7 1400.3L1811.6 1439.5L1812.5 1479.5L1813.5 1520.4L1814.4 1562.3L1815.2 1513.8L1816 1467.9L1816.8 1423.9L1817.6 1381.7L1817.8 1390.7L1818 1399.7L1818.9 1438.7L1819.8 1478.7L1820.7 1519.6L1821.6 1561.4L1822.6 1499.1L1823.7 1438.3L1824.7 1380.7L1824.9 1389.9L1825.1 1399L1826 1438.6L1827 1479.2L1827.9 1520.7L1828.8 1563.1L1829.7 1512.8L1830.5 1467.1L1831.3 1423.2L1832.1 1381L1832.3 1390L1832.4 1398.9L1833.3 1437.9L1834.1 1477.8L1835 1518.6L1835.8 1560.3L1836.8 1498.6L1837.7 1438.2L1838.7 1381L1838.9 1390.1L1839 1399.1L1839.9 1438.6L1840.7 1478.9L1841.6 1520.1L1842.5 1562.3L1843.2 1514.1L1843.9 1467.9L1844.7 1423.4L1845.4 1380.7L1845.6 1389.8L1845.7 1398.9L1846.5 1438.4L1847.3 1478.8L1848.1 1520L1848.9 1562.3L1849.9 1498.1L1850.8 1438.1L1851.7 1381.3L1851.9 1390.3L1852 1399.3L1852.9 1438.5L1853.9 1478.5L1854.8 1519.5L1855.7 1561.4L1856.5 1513.5L1857.2 1467.5L1858 1423.2L1858.8 1380.7L1859 1389.8L1859.1 1398.8L1860 1438.1L1860.8 1478.3L1861.7 1519.4L1862.5 1561.4L1863.5 1497.2L1864.4 1436.3L1865.4 1378.6L1865.6 1387.7L1865.8 1396.9L1866.7 1436.7L1867.7 1477.3L1868.7 1518.9L1869.7 1561.4L1870.5 1514.8L1871.3 1468.4L1872.2 1423.8L1873 1381L1873.2 1390.1L1873.4 1399.2L1874.3 1438.8L1875.2 1479.3L1876.1 1520.8L1877 1563.1L1878 1498.2L1879.1 1435.7L1880.1 1376.3L1880.3 1385.7L1880.5 1395.1L1881.5 1436L1882.5 1477.8L1883.6 1520.5L1884.6 1564.2L1885.5 1511.5L1886.3 1464.6L1887.2 1419.6L1888.1 1376.3L1888.3 1385.5L1888.5 1394.7L1889.4 1434.7L1890.3 1475.7L1891.2 1517.5L1892.1 1560.3L1893.1 1497.3L1894.2 1437.6L1895.2 1381L1895.4 1390L1895.6 1398.9L1896.5 1437.9L1897.5 1477.8L1898.5 1518.6L1899.5 1560.3L1900.3 1515.8L1901.1 1469.3L1902 1424.6L1902.8 1381.7L1903 1390.8L1903.2 1399.9L1904.1 1439.6L1905.1 1480.3L1906.1 1521.8L1907.1 1564.2L1908.2 1499.2L1909.3 1437.5L1910.4 1379L1910.6 1388.3L1910.8 1397.5L1911.8 1437.8L1912.8 1479L1913.9 1521.2L1914.9 1564.2L1915.8 1514.6L1916.6 1468.7L1917.5 1424.6L1918.4 1382.3L1918.6 1391.3L1918.8 1400.3L1919.7 1439.5L1920.6 1479.5L1921.5 1520.4L1922.4 1562.3L1923.4 1498.6L1924.5 1438.2L1925.5 1381L1925.7 1390.1L1925.9 1399.1L1926.8 1438.6L1927.8 1478.9L1928.7 1520.1L1929.6 1562.3L1930.7 1499.3L1931.8 1439.6L1932.9 1383L1933.1 1392L1933.3 1400.9L1934.3 1439.9L1935.2 1479.8L1936.2 1520.6L1937.2 1562.3L1938.1 1513.7L1938.9 1467L1939.8 1422.1L1940.6 1379L1940.8 1388.2L1941 1397.3L1942 1437.2L1942.9 1478L1943.9 1519.6L1944.9 1562.3L1945.7 1513.8L1946.5 1466.5L1947.4 1421L1948.2 1377.3L1948.4 1386.6L1948.6 1395.9L1949.5 1436.3L1950.5 1477.6L1951.5 1519.9L1952.5 1563.1L1953.3 1514.8L1954.1 1468.4L1955 1423.8L1955.8 1381L1956 1390.1L1956.2 1399.2L1957.1 1438.8L1958 1479.3L1958.9 1520.8L1959.8 1563.1L1960.8 1499.4L1961.9 1437.9L1962.9 1379.7L1963.1 1388.9L1963.3 1398.1L1964.2 1438.3L1965.2 1479.3L1966.2 1521.3L1967.2 1564.2L1968 1513.8L1968.8 1467.2L1969.7 1422.4L1970.5 1379.4L1970.7 1388.6L1970.9 1397.7L1971.8 1437.5L1972.8 1478.1L1973.7 1519.7L1974.7 1562.3L1975.8 1498L1976.9 1437.1L1978 1379.4L1978.2 1388.6L1978.4 1397.7L1979.3 1437.5L1980.3 1478.1L1981.3 1519.7L1982.3 1562.3L1983.1 1512.9L1983.9 1466.2L1984.8 1421.4L1985.6 1378.3L1985.8 1387.5L1986 1396.6L1986.9 1436.5L1987.8 1477.2L1988.8 1518.8L1989.7 1561.4L1990.5 1512.9L1991.3 1467.4L1992.1 1423.7L1992.9 1381.7L1993.1 1390.6L1993.3 1399.5L1994.2 1438.4L1995.1 1478.1L1996 1518.7L1996.9 1560.3L1997.9 1497.2L1999 1436.3L2000 1378.6L2000.2 1387.7L2000.4 1396.9L2001.3 1436.7L2002.3 1477.3L2003.2 1518.9L2004.1 1561.4L2005.2 1497.1L2006.3 1437.1L2007.4 1380.3L2007.6 1389.3L2007.8 1398.3L2008.7 1437.5L2009.7 1477.5L2010.7 1518.4L2011.7 1560.3L2012.8 1500.6L2013.9 1441.4L2015 1385.3L2015.2 1394.2L2015.4 1403.1L2016.5 1441.7L2017.6 1481.3L2018.6 1521.8L2019.7 1563.1L2020.6 1515.2L2021.6 1469.1L2022.5 1424.8L2023.4 1382.3L2023.6 1391.4L2023.8 1400.4L2024.8 1439.7L2025.7 1480L2026.7 1521.1L2027.7 1563.1L2028.5 1512.9L2029.3 1467.4L2030.2 1423.7L2031 1381.7L2031.2 1390.6L2031.4 1399.5L2032.3 1438.4L2033.2 1478.1L2034.2 1518.7L2035.1 1560.3L2036.2 1497.2L2037.2 1437.4L2038.3 1380.7L2038.5 1389.7L2038.7 1398.7L2039.7 1437.8L2040.7 1477.7L2041.8 1518.5L2042.8 1560.3L2043.7 1514.9L2044.5 1468.6L2045.4 1424L2046.3 1381.3L2046.5 1390.4L2046.7 1399.5L2047.4 1439L2048.2 1479.5L2049 1520.8L2049.8 1563.1" stroke="#129412" stroke-width="4" fill="none" stroke-linejoin="round" stroke-linecap="round" stroke-opacity="0.28"/>
<path d="M1521.4 1563.1L1522.3 1498.9L1523.1 1438L1524 1380.3L1524.2 1389.5L1524.4 1398.6L1525.2 1430.3L1526 1462.7L1526.8 1495.5L1527.7 1529L1528.5 1563.1L1529.4 1514.2L1530.2 1468L1531.1 1423.6L1532 1381L1532.2 1390.1L1532.4 1399.1L1533.4 1438.6L1534.4 1478.9L1535.5 1520.1L1536.5 1562.3L1537.4 1513.5L1538.2 1467.5L1539.1 1423.2L1540 1380.7L1540.2 1389.8L1540.4 1398.8L1541.2 1438.1L1542.1 1478.3L1542.9 1519.4L1543.8 1561.4L1544.5 1516L1545.2 1469.7L1546 1425.1L1546.7 1382.3L1546.9 1391.4L1547 1400.5L1547.8 1440.1L1548.6 1480.6L1549.4 1521.9L1550.2 1564.2L1550.9 1514.5L1551.6 1468.6L1552.3 1424.4L1553 1382.1L1553.1 1391.1L1553.3 1400.1L1554 1439.3L1554.7 1479.4L1555.5 1520.4L1556.2 1562.3L1557 1497.9L1557.9 1436.9L1558.7 1379L1558.8 1388.2L1559 1397.3L1559.7 1437.2L1560.5 1478L1561.2 1519.6L1561.9 1562.3L1562.6 1513.6L1563.2 1466.8L1563.9 1421.9L1564.5 1378.7L1564.6 1387.9L1564.8 1397.1L1565.5 1437L1566.3 1477.8L1567 1519.6L1567.7 1562.3L1568.4 1515.6L1569 1468.8L1569.7 1423.9L1570.3 1380.7L1570.4 1389.9L1570.6 1399.1L1571.3 1439L1572 1479.8L1572.6 1521.6L1573.3 1564.2L1573.9 1514.9L1574.5 1468.6L1575.1 1424L1575.7 1381.3L1575.8 1390.4L1576 1399.5L1576.6 1439L1577.3 1479.5L1577.9 1520.8L1578.6 1563.1L1579.1 1515.7L1579.7 1469L1580.2 1424.1L1580.8 1381L1580.9 1390.2L1581.1 1399.3L1581.7 1439.2L1582.3 1479.9L1583 1521.6L1583.6 1564.2L1584.3 1498L1585.1 1437.8L1585.8 1380.7L1585.9 1389.8L1586.1 1398.8L1586.8 1438.1L1587.5 1478.3L1588.2 1519.4L1588.9 1561.4L1589.8 1497.5L1590.6 1436.9L1591.4 1379.4L1591.6 1388.5L1591.7 1397.6L1592.6 1437.2L1593.4 1477.7L1594.3 1519.1L1595.2 1561.4L1596.1 1498.3L1597.1 1436.8L1598.1 1378.6L1598.3 1387.8L1598.5 1397.1L1599.4 1437.2L1600.3 1478.2L1601.3 1520.2L1602.2 1563.1L1603.1 1513.3L1603.9 1466.3L1604.7 1421.1L1605.5 1377.7L1605.7 1386.9L1605.9 1396.1L1606.7 1436.3L1607.6 1477.3L1608.5 1519.3L1609.4 1562.3L1610.2 1512.9L1611 1467.4L1611.7 1423.7L1612.5 1381.7L1612.7 1390.6L1612.8 1399.5L1613.7 1438.4L1614.6 1478.1L1615.5 1518.7L1616.4 1560.3L1617.2 1512.7L1618 1466.9L1618.7 1423L1619.5 1380.7L1619.7 1389.7L1619.8 1398.7L1620.6 1437.8L1621.5 1477.7L1622.3 1518.5L1623.1 1560.3L1623.8 1514.2L1624.5 1468L1625.2 1423.6L1625.9 1381L1626.1 1390.1L1626.2 1399.1L1627 1438.6L1627.8 1478.9L1628.6 1520.1L1629.4 1562.3L1630.1 1514.8L1630.8 1468.3L1631.5 1423.6L1632.2 1380.7L1632.4 1389.9L1632.5 1399L1633.3 1438.6L1634.1 1479.2L1634.9 1520.7L1635.7 1563.1L1636.6 1498L1637.5 1438L1638.4 1381L1638.6 1390L1638.7 1399.1L1639.6 1438.3L1640.6 1478.4L1641.5 1519.5L1642.4 1561.4L1643.2 1514.9L1643.9 1468.6L1644.7 1424L1645.5 1381.3L1645.7 1390.4L1645.8 1399.5L1646.6 1439L1647.5 1479.5L1648.3 1520.8L1649.1 1563.1L1650 1498.3L1651 1436.8L1651.9 1378.6L1652.1 1387.8L1652.2 1397.1L1653.2 1437.2L1654.1 1478.2L1655.1 1520.2L1656 1563.1L1656.9 1514.8L1657.7 1468.4L1658.5 1423.8L1659.3 1381L1659.5 1390.1L1659.7 1399.2L1660.6 1438.8L1661.5 1479.3L1662.4 1520.8L1663.3 1563.1L1664.4 1495.7L1665.4 1434.4L1666.5 1376.3L1666.7 1385.5L1666.9 1394.7L1667.9 1434.7L1668.9 1475.7L1670 1517.5L1671 1560.3L1671.9 1512.3L1672.7 1465.2L1673.6 1419.8L1674.5 1376.3L1674.7 1385.6L1674.9 1394.8L1675.8 1435.1L1676.7 1476.3L1677.6 1518.4L1678.5 1561.4L1679.5 1499.8L1680.6 1438.7L1681.6 1380.7L1681.8 1389.9L1682 1399.1L1683 1439L1684 1479.8L1685.1 1521.6L1686.1 1564.2L1687 1515L1687.8 1468.8L1688.7 1424.3L1689.6 1381.7L1689.8 1390.8L1690 1399.8L1690.9 1439.3L1691.8 1479.6L1692.8 1520.9L1693.7 1563.1L1694.8 1498L1695.8 1437.1L1696.9 1379.4L1697.1 1388.6L1697.3 1397.7L1698.4 1437.5L1699.4 1478.1L1700.5 1519.7L1701.5 1562.3L1702.5 1514L1703.4 1468.4L1704.3 1424.6L1705.2 1382.6L1705.4 1391.6L1705.6 1400.5L1706.5 1439.4L1707.4 1479.2L1708.3 1519.8L1709.2 1561.4L1710.2 1499.1L1711.3 1438.5L1712.3 1381L1712.5 1390.1L1712.7 1399.2L1713.6 1438.8L1714.5 1479.3L1715.5 1520.8L1716.4 1563.1L1717.5 1499.4L1718.5 1439.9L1719.6 1383.4L1719.8 1392.4L1720 1401.3L1721 1440.2L1722 1480L1723 1520.7L1724 1562.3L1724.8 1515.1L1725.7 1467.9L1726.5 1422.6L1727.4 1379L1727.6 1388.3L1727.8 1397.5L1728.8 1437.8L1729.7 1479L1730.7 1521.2L1731.7 1564.2L1732.5 1513.2L1733.3 1466.1L1734.2 1420.8L1735 1377.3L1735.2 1386.5L1735.4 1395.8L1736.3 1436L1737.3 1477.2L1738.3 1519.2L1739.3 1562.3L1740.1 1515.7L1740.9 1469L1741.8 1424.1L1742.6 1381L1742.8 1390.2L1743 1399.3L1743.9 1439.2L1744.8 1479.9L1745.8 1521.6L1746.7 1564.2L1747.8 1497.6L1748.8 1437L1749.9 1379.7L1750.1 1388.8L1750.3 1397.8L1751.2 1437.4L1752.2 1477.8L1753.1 1519.1L1754 1561.4L1754.9 1515.2L1755.7 1468.1L1756.5 1422.9L1757.3 1379.4L1757.5 1388.7L1757.7 1397.9L1758.6 1438.1L1759.6 1479.2L1760.5 1521.3L1761.4 1564.2L1762.3 1513.8L1763.1 1467.2L1763.9 1422.4L1764.7 1379.4L1764.9 1388.6L1765.1 1397.7L1766 1437.5L1766.9 1478.1L1767.9 1519.7L1768.8 1562.3L1769.9 1496.8L1770.9 1436.7L1772 1379.7L1772.2 1388.7L1772.4 1397.7L1773.3 1437L1774.3 1477.2L1775.2 1518.3L1776.1 1560.3L1777 1514.2L1777.8 1468.9L1778.6 1425.3L1779.4 1383.4L1779.6 1392.3L1779.8 1401.2L1780.7 1439.9L1781.7 1479.5L1782.6 1520L1783.5 1561.4L1784.4 1512.5L1785.2 1466.5L1786 1422.3L1786.8 1379.9L1787 1389L1787.2 1398L1788.1 1437.2L1789 1477.3L1790 1518.3L1790.9 1560.3L1792 1497.7L1793 1438.3L1794.1 1382.1L1794.3 1391L1794.5 1399.9L1795.4 1438.7L1796.4 1478.3L1797.4 1518.8L1798.4 1560.3L1799.5 1500L1800.6 1441L1801.7 1385L1801.9 1393.9L1802.1 1402.7L1803.2 1441.3L1804.3 1480.7L1805.4 1521L1806.5 1562.3L1807.5 1514.6L1808.4 1468.7L1809.4 1424.6L1810.3 1382.3L1810.5 1391.3L1810.7 1400.3L1811.6 1439.5L1812.5 1479.5L1813.5 1520.4L1814.4 1562.3L1815.2 1513.8L1816 1467.9L1816.8 1423.9L1817.6 1381.7L1817.8 1390.7L1818 1399.7L1818.9 1438.7L1819.8 1478.7L1820.7 1519.6L1821.6 1561.4L1822.6 1499.1L1823.7 1438.3L1824.7 1380.7L1824.9 1389.9L1825.1 1399L1826 1438.6L1827 1479.2L1827.9 1520.7L1828.8 1563.1L1829.7 1512.8L1830.5 1467.1L1831.3 1423.2L1832.1 1381L1832.3 1390L1832.4 1398.9L1833.3 1437.9L1834.1 1477.8L1835 1518.6L1835.8 1560.3L1836.8 1498.6L1837.7 1438.2L1838.7 1381L1838.9 1390.1L1839 1399.1L1839.9 1438.6L1840.7 1478.9L1841.6 1520.1L1842.5 1562.3L1843.2 1514.1L1843.9 1467.9L1844.7 1423.4L1845.4 1380.7L1845.6 1389.8L1845.7 1398.9L1846.5 1438.4L1847.3 1478.8L1848.1 1520L1848.9 1562.3L1849.9 1498.1L1850.8 1438.1L1851.7 1381.3L1851.9 1390.3L1852 1399.3L1852.9 1438.5L1853.9 1478.5L1854.8 1519.5L1855.7 1561.4L1856.5 1513.5L1857.2 1467.5L1858 1423.2L1858.8 1380.7L1859 1389.8L1859.1 1398.8L1860 1438.1L1860.8 1478.3L1861.7 1519.4L1862.5 1561.4L1863.5 1497.2L1864.4 1436.3L1865.4 1378.6L1865.6 1387.7L1865.8 1396.9L1866.7 1436.7L1867.7 1477.3L1868.7 1518.9L1869.7 1561.4L1870.5 1514.8L1871.3 1468.4L1872.2 1423.8L1873 1381L1873.2 1390.1L1873.4 1399.2L1874.3 1438.8L1875.2 1479.3L1876.1 1520.8L1877 1563.1L1878 1498.2L1879.1 1435.7L1880.1 1376.3L1880.3 1385.7L1880.5 1395.1L1881.5 1436L1882.5 1477.8L1883.6 1520.5L1884.6 1564.2L1885.5 1511.5L1886.3 1464.6L1887.2 1419.6L1888.1 1376.3L1888.3 1385.5L1888.5 1394.7L1889.4 1434.7L1890.3 1475.7L1891.2 1517.5L1892.1 1560.3L1893.1 1497.3L1894.2 1437.6L1895.2 1381L1895.4 1390L1895.6 1398.9L1896.5 1437.9L1897.5 1477.8L1898.5 1518.6L1899.5 1560.3L1900.3 1515.8L1901.1 1469.3L1902 1424.6L1902.8 1381.7L1903 1390.8L1903.2 1399.9L1904.1 1439.6L1905.1 1480.3L1906.1 1521.8L1907.1 1564.2L1908.2 1499.2L1909.3 1437.5L1910.4 1379L1910.6 1388.3L1910.8 1397.5L1911.8 1437.8L1912.8 1479L1913.9 1521.2L1914.9 1564.2L1915.8 1514.6L1916.6 1468.7L1917.5 1424.6L1918.4 1382.3L1918.6 1391.3L1918.8 1400.3L1919.7 1439.5L1920.6 1479.5L1921.5 1520.4L1922.4 1562.3L1923.4 1498.6L1924.5 1438.2L1925.5 1381L1925.7 1390.1L1925.9 1399.1L1926.8 1438.6L1927.8 1478.9L1928.7 1520.1L1929.6 1562.3L1930.7 1499.3L1931.8 1439.6L1932.9 1383L1933.1 1392L1933.3 1400.9L1934.3 1439.9L1935.2 1479.8L1936.2 1520.6L1937.2 1562.3L1938.1 1513.7L1938.9 1467L1939.8 1422.1L1940.6 1379L1940.8 1388.2L1941 1397.3L1942 1437.2L1942.9 1478L1943.9 1519.6L1944.9 1562.3L1945.7 1513.8L1946.5 1466.5L1947.4 1421L1948.2 1377.3L1948.4 1386.6L1948.6 1395.9L1949.5 1436.3L1950.5 1477.6L1951.5 1519.9L1952.5 1563.1L1953.3 1514.8L1954.1 1468.4L1955 1423.8L1955.8 1381L1956 1390.1L1956.2 1399.2L1957.1 1438.8L1958 1479.3L1958.9 1520.8L1959.8 1563.1L1960.8 1499.4L1961.9 1437.9L1962.9 1379.7L1963.1 1388.9L1963.3 1398.1L1964.2 1438.3L1965.2 1479.3L1966.2 1521.3L1967.2 1564.2L1968 1513.8L1968.8 1467.2L1969.7 1422.4L1970.5 1379.4L1970.7 1388.6L1970.9 1397.7L1971.8 1437.5L1972.8 1478.1L1973.7 1519.7L1974.7 1562.3L1975.8 1498L1976.9 1437.1L1978 1379.4L1978.2 1388.6L1978.4 1397.7L1979.3 1437.5L1980.3 1478.1L1981.3 1519.7L1982.3 1562.3L1983.1 1512.9L1983.9 1466.2L1984.8 1421.4L1985.6 1378.3L1985.8 1387.5L1986 1396.6L1986.9 1436.5L1987.8 1477.2L1988.8 1518.8L1989.7 1561.4L1990.5 1512.9L1991.3 1467.4L1992.1 1423.7L1992.9 1381.7L1993.1 1390.6L1993.3 1399.5L1994.2 1438.4L1995.1 1478.1L1996 1518.7L1996.9 1560.3L1997.9 1497.2L1999 1436.3L2000 1378.6L2000.2 1387.7L2000.4 1396.9L2001.3 1436.7L2002.3 1477.3L2003.2 1518.9L2004.1 1561.4L2005.2 1497.1L2006.3 1437.1L2007.4 1380.3L2007.6 1389.3L2007.8 1398.3L2008.7 1437.5L2009.7 1477.5L2010.7 1518.4L2011.7 1560.3L2012.8 1500.6L2013.9 1441.4L2015 1385.3L2015.2 1394.2L2015.4 1403.1L2016.5 1441.7L2017.6 1481.3L2018.6 1521.8L2019.7 1563.1L2020.6 1515.2L2021.6 1469.1L2022.5 1424.8L2023.4 1382.3L2023.6 1391.4L2023.8 1400.4L2024.8 1439.7L2025.7 1480L2026.7 1521.1L2027.7 1563.1L2028.5 1512.9L2029.3 1467.4L2030.2 1423.7L2031 1381.7L2031.2 1390.6L2031.4 1399.5L2032.3 1438.4L2033.2 1478.1L2034.2 1518.7L2035.1 1560.3L2036.2 1497.2L2037.2 1437.4L2038.3 1380.7L2038.5 1389.7L2038.7 1398.7L2039.7 1437.8L2040.7 1477.7L2041.8 1518.5L2042.8 1560.3L2043.7 1514.9L2044.5 1468.6L2045.4 1424L2046.3 1381.3L2046.5 1390.4L2046.7 1399.5L2047.4 1439L2048.2 1479.5L2049 1520.8L2049.8 1563.1" stroke="#109210" stroke-width="2.5" fill="none" stroke-linejoin="round" stroke-linecap="round"/>
<path d="M1521.4 1579.3v7M1628.7 1579.3v7M1736 1579.3v7M1843.4 1579.3v7M1950.7 1579.3v7M2058 1579.3v7M1575.1 1579.3v3.2M1682.4 1579.3v3.2M1789.7 1579.3v3.2M1897 1579.3v3.2M2004.3 1579.3v3.2" stroke="#000" stroke-width="3.8" fill="none"/>
<g font-size="29.5" text-anchor="middle"><text x="1521.4" y="1615.3">0</text><text x="1628.7" y="1615.3">1000</text><text x="1736" y="1615.3">2000</text><text x="1843.4" y="1615.3">3000</text><text x="1950.7" y="1615.3">4000</text><text x="2058" y="1615.3">5000</text></g>
<path d="M1508.8 1563.1h-7M1508.8 1478.4h-7M1508.8 1393.6h-7M1508.8 1308.9h-7M1508.8 1224.1h-7M1508.8 1139.4h-7M1508.8 1520.7h-3.2M1508.8 1436h-3.2M1508.8 1351.2h-3.2M1508.8 1266.5h-3.2M1508.8 1181.8h-3.2" stroke="#000" stroke-width="3.8" fill="none"/>
<g font-size="29.5" text-anchor="end"><text x="1494.9" y="1572.5">0.00</text><text x="1494.9" y="1487.7">0.03</text><text x="1494.9" y="1403">0.06</text><text x="1494.9" y="1318.3">0.09</text><text x="1494.9" y="1233.5">0.12</text><text x="1494.9" y="1148.8">0.15</text></g>
<text x="1784.4" y="1645" font-size="37.8" text-anchor="middle">Time(s)</text>
<text transform="translate(1430 1348) rotate(-90)" font-size="37" text-anchor="middle">ΔR/R<tspan font-size="24" dy="7">0</tspan></text>
<text x="1529.7" y="1185" font-size="41" fill="#ff0000">(i)</text>
<path d="M1702.1 1301L1702.1 1300L1702.8 1292L1703.5 1284L1704.2 1276.1L1705 1268.1L1705.7 1260.2L1706.4 1252.3L1707.1 1244.4L1707.8 1236.5L1708.5 1228.7L1709.2 1221.1L1710 1213.5L1710.7 1205.8L1711.4 1198.4L1712.1 1191.4L1712.8 1185.2L1713.5 1179.6L1714.2 1174.5L1714.9 1169.9L1715.5 1176.4L1716.1 1182.9L1716.8 1183.8L1717.6 1185.8L1718.3 1188.7L1719 1194L1719.7 1200.9L1720.5 1208.2L1721.2 1215L1721.9 1221.3L1722.6 1227.7L1723.3 1234.2L1724.1 1240.7L1724.8 1247.2L1725.5 1253.7L1726.2 1260.3L1727 1267L1727.7 1273.7L1728.4 1280L1729.1 1285.6L1729.9 1290.8L1730.6 1295.6L1731.3 1300L1732 1292L1732.7 1284.1L1733.4 1276.2L1734.1 1268.3L1734.8 1260.5L1735.5 1252.6L1736.2 1244.7L1737 1236.9L1737.7 1229.1L1738.4 1221.5L1739.1 1214L1739.8 1206.4L1740.5 1199L1741.2 1192.1L1741.9 1185.9L1742.6 1180.3L1743.3 1175.3L1744 1170.7L1744.6 1177.2L1745.2 1183.6L1745.9 1184.5L1746.6 1186.5L1747.3 1189.4L1748 1194.7L1748.8 1201.5L1749.5 1208.8L1750.2 1215.5L1750.9 1221.8L1751.6 1228.2L1752.3 1234.6L1753 1241.1L1753.8 1247.5L1754.5 1253.9L1755.2 1260.5L1755.9 1267.2L1756.6 1273.8L1757.3 1280.1L1758.1 1285.7L1758.8 1290.9L1759.5 1295.6L1760.2 1300L1760.9 1291.9L1761.7 1283.9L1762.4 1275.9L1763.1 1267.9L1763.8 1260L1764.6 1252L1765.3 1244L1766 1236.1L1766.8 1228.3L1767.5 1220.6L1768.2 1212.9L1768.9 1205.2L1769.7 1197.7L1770.4 1190.7L1771.1 1184.5L1771.9 1178.8L1772.6 1173.7L1773.3 1169.1L1773.9 1175.6L1774.5 1182.2L1775.2 1183.1L1776 1185.1L1776.7 1188L1777.5 1193.4L1778.2 1200.3L1778.9 1207.7L1779.7 1214.5L1780.4 1220.8L1781.1 1227.3L1781.9 1233.8L1782.6 1240.3L1783.4 1246.9L1784.1 1253.4L1784.8 1260L1785.6 1266.8L1786.3 1273.5L1787 1279.8L1787.8 1285.5L1788.5 1290.8L1789.3 1295.6L1790 1300L1790.7 1292.1L1791.4 1284.3L1792.1 1276.5L1792.7 1268.7L1793.4 1261L1794.1 1253.2L1794.8 1245.4L1795.5 1237.7L1796.2 1230L1796.9 1222.5L1797.6 1215.1L1798.2 1207.6L1798.9 1200.3L1799.6 1193.4L1800.3 1187.4L1801 1181.8L1801.7 1176.8L1802.4 1172.3L1802.9 1178.7L1803.5 1185.1L1804.2 1186L1804.9 1187.9L1805.6 1190.8L1806.3 1196L1807 1202.7L1807.7 1209.9L1808.4 1216.6L1809.1 1222.8L1809.8 1229.1L1810.4 1235.4L1811.1 1241.8L1811.8 1248.2L1812.5 1254.5L1813.2 1261L1813.9 1267.6L1814.6 1274.2L1815.3 1280.3L1816 1285.9L1816.7 1291L1817.4 1295.7L1818.1 1300L1818.9 1292L1819.6 1284L1820.4 1276.1L1821.1 1268.1L1821.9 1260.2L1822.6 1252.3L1823.4 1244.4L1824.1 1236.5L1824.9 1228.7L1825.6 1221.1L1826.4 1213.5L1827.1 1205.8L1827.9 1198.4L1828.6 1191.4L1829.4 1185.2L1830.1 1179.6L1830.9 1174.5L1831.7 1169.9L1832.3 1176.4L1832.9 1182.9L1833.6 1183.8L1834.4 1185.8L1835.2 1188.7L1835.9 1194L1836.7 1200.9L1837.5 1208.2L1838.2 1215L1839 1221.3L1839.7 1227.7L1840.5 1234.2L1841.3 1240.7L1842 1247.2L1842.8 1253.7L1843.6 1260.3L1844.3 1267L1845.1 1273.7L1845.8 1280L1846.6 1285.6L1847.4 1290.8L1848.1 1295.6L1848.9 1300L1849.6 1292.1L1850.3 1284.2L1851 1276.4L1851.7 1268.5L1852.5 1260.7L1853.2 1252.9L1853.9 1245.1L1854.6 1237.3L1855.3 1229.6L1856 1222L1856.7 1214.5L1857.4 1207L1858.1 1199.6L1858.9 1192.8L1859.6 1186.6L1860.3 1181.1L1861 1176.1L1861.7 1171.5L1862.3 1178L1862.9 1184.4L1863.6 1185.2L1864.3 1187.2L1865 1190.1L1865.8 1195.3L1866.5 1202.1L1867.2 1209.4L1867.9 1216L1868.6 1222.3L1869.4 1228.6L1870.1 1235L1870.8 1241.4L1871.5 1247.9L1872.2 1254.2L1873 1260.8L1873.7 1267.4L1874.4 1274L1875.1 1280.2L1875.8 1285.8L1876.6 1290.9L1877.3 1295.7L1878 1300" stroke="#1e9a1e" stroke-width="2" fill="none" stroke-linejoin="round" stroke-linecap="round"/>
<rect x="1673" y="1149.5" width="235.9" height="162.1" fill="none" stroke="#1a1a1a" stroke-width="2.2"/>
<path d="M1673.6 1312.1v3.2M1716.1 1312.1v3.2M1758.6 1312.1v3.2M1801.2 1312.1v3.2M1843.7 1312.1v3.2M1886.2 1312.1v3.2M1694.9 1312.1v1.8M1737.4 1312.1v1.8M1779.9 1312.1v1.8M1822.4 1312.1v1.8M1864.9 1312.1v1.8" stroke="#000" stroke-width="1.4" fill="none"/>
<g font-size="10.7" text-anchor="middle"><text x="1673.6" y="1325.4">2100</text><text x="1716.1" y="1325.4">2200</text><text x="1758.6" y="1325.4">2300</text><text x="1801.2" y="1325.4">2400</text><text x="1843.7" y="1325.4">2500</text><text x="1886.2" y="1325.4">2600</text></g>
<path d="M1672.5 1301h-3.2M1672.5 1280.7h-3.2M1672.5 1260.5h-3.2M1672.5 1240.2h-3.2M1672.5 1220h-3.2M1672.5 1199.7h-3.2M1672.5 1179.5h-3.2M1672.5 1159.2h-3.2M1672.5 1290.9h-1.8M1672.5 1270.6h-1.8M1672.5 1250.4h-1.8M1672.5 1230.1h-1.8M1672.5 1209.8h-1.8M1672.5 1189.6h-1.8M1672.5 1169.3h-1.8" stroke="#000" stroke-width="1.4" fill="none"/>
<g font-size="10.5" text-anchor="end"><text x="1667.3" y="1304">0,00</text><text x="1667.3" y="1283.8">0,01</text><text x="1667.3" y="1263.5">0,02</text><text x="1667.3" y="1243.2">0,03</text><text x="1667.3" y="1223">0,04</text><text x="1667.3" y="1202.7">0,05</text><text x="1667.3" y="1182.5">0,06</text><text x="1667.3" y="1162.2">0,07</text></g>
<text x="1791.3" y="1345.6" font-size="13.4" text-anchor="middle">Time(s)</text>
<text transform="translate(1625.5 1220.4) rotate(-90)" font-size="13" text-anchor="middle">ΔR/R<tspan font-size="8" dy="2.4">0</tspan></text></g>
</svg>
</body>
</html>
